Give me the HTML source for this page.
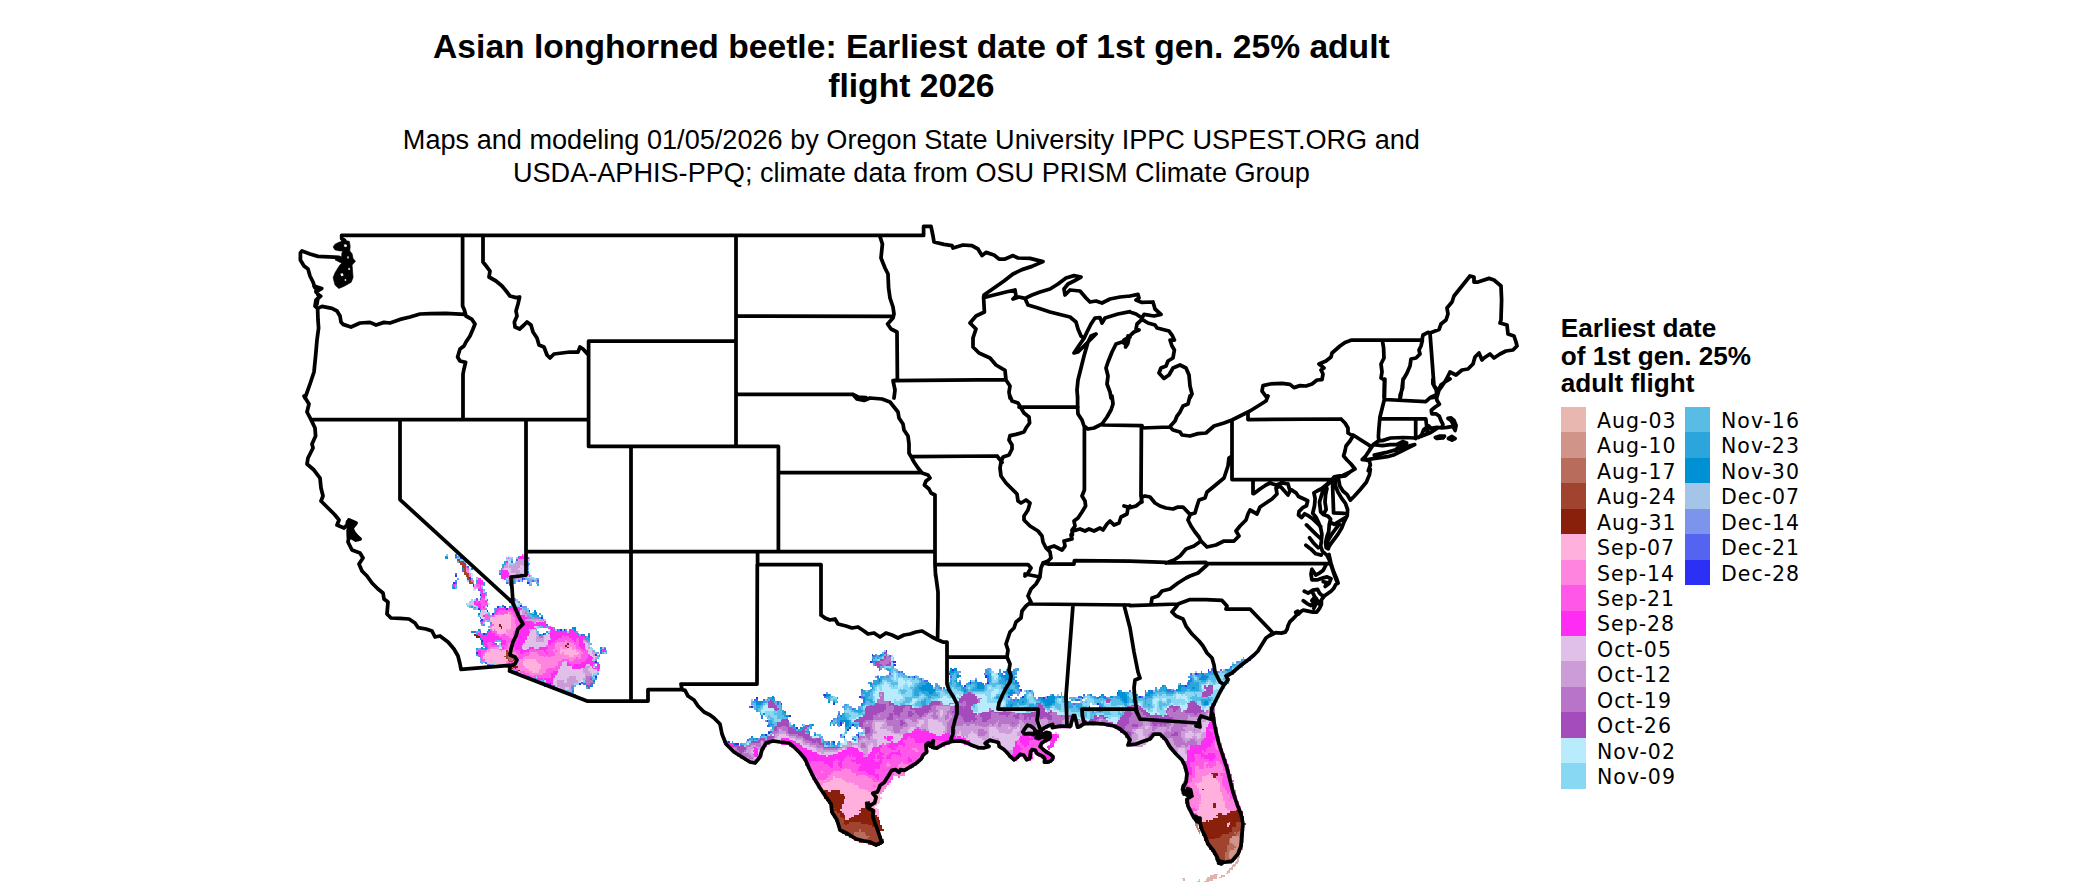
<!DOCTYPE html>
<html lang="en"><head><meta charset="utf-8"><title>Asian longhorned beetle: Earliest date of 1st gen. 25% adult flight 2026</title>
<style>
html,body{margin:0;padding:0;background:#fff}
body{width:2100px;height:892px;position:relative;overflow:hidden;font-family:"Liberation Sans",sans-serif;color:#000}
#title{position:absolute;left:311.4px;width:1200px;top:27.0px;text-align:center;font-weight:bold;font-size:33.63px;line-height:39.2px;white-space:nowrap}
#sub{position:absolute;left:311.4px;width:1200px;top:122.6px;text-align:center;font-size:27.12px;line-height:33px;white-space:nowrap}
#map{position:absolute;left:0;top:0}
#lt{position:absolute;left:1560.8px;top:314.8px;font-weight:bold;font-size:26.15px;line-height:27.8px;white-space:nowrap}
.k{position:absolute;width:25px;height:25.75px}
.kl{position:absolute;font-family:"DejaVu Sans",sans-serif;font-size:20.5px;letter-spacing:1px;line-height:25.45px;height:25.45px;white-space:nowrap;color:#000}
</style></head><body>
<div id="title">Asian longhorned beetle: Earliest date of 1st gen. 25% adult<br>flight 2026</div>
<div id="sub">Maps and modeling 01/05/2026 by Oregon State University IPPC USPEST.ORG and<br>USDA-APHIS-PPQ; climate data from OSU PRISM Climate Group</div>
<svg id="map" width="2100" height="892" viewBox="0 0 2100 892">
<g fill="none" stroke-width="1.78" shape-rendering="crispEdges"><path d="M1232 836.625h7M1230.25 838.375h10.5M1242.5 838.375h1.75M1230.25 840.125h10.5M1242.5 840.125h1.75M1230.25 841.875h10.5M1242.5 841.875h1.75M1232 843.625h10.5M1233.75 845.375h8.75M1235.5 847.125h7M1233.75 848.875h8.75M1230.25 850.625h10.5M1228.5 852.375h12.25M1228.5 854.125h10.5M1228.5 855.875h10.5M1228.5 857.625h8.75M1230.25 859.375h5.25M1230.25 861.125h3.5" stroke="#d09488"/><path d="M507.5 654.625h1.75M507.5 656.375h1.75M511 656.375h3.5M507.5 658.125h7M509.25 659.875h3.5M1242.5 827.875h1.75M859.25 829.625h1.75M1240.75 829.625h3.5M859.25 831.375h1.75M1239 831.375h5.25M854 833.125h10.5M1233.75 833.125h1.75M1237.25 833.125h7M854 834.875h12.25M1235.5 834.875h8.75M855.75 836.625h14M1239 836.625h5.25M857.5 838.375h10.5M1240.75 838.375h1.75M1228.5 840.125h1.75M1240.75 840.125h1.75M1228.5 841.875h1.75M1240.75 841.875h1.75M1228.5 843.625h3.5M1226.75 845.375h7M1226.75 847.125h8.75M1226.75 848.875h7M1226.75 850.625h3.5M1225 852.375h3.5M1225 854.125h3.5M1225 855.875h3.5M1225 857.625h3.5M1225 859.375h5.25M1225 861.125h5.25M1225 862.875h7" stroke="#b86c5c"/><path d="M456.75 560.125h3.5M458.5 561.875h5.25M460.25 563.625h5.25M462 565.375h3.5M462 567.125h3.5M463.75 568.875h1.75M463.75 570.625h1.75M463.75 572.375h3.5M463.75 574.125h5.25M465.5 575.875h3.5M467.25 577.625h1.75M467.25 579.375h3.5M469 581.125h1.75M469 582.875h3.5M472.5 586.375h1.75M505.75 651.125h1.75M505.75 652.875h3.5M505.75 654.625h1.75M504 656.375h3.5M509.25 656.375h1.75M505.75 658.125h1.75M507.5 659.875h1.75M512.75 659.875h1.75M509.25 661.625h3.5M833 808.625h1.75M831.25 812.125h5.25M831.25 813.875h8.75M833 815.625h7M833 817.375h8.75M834.75 819.125h8.75M1242.5 819.125h1.75M834.75 820.875h8.75M1240.75 820.875h3.5M836.5 822.625h7M848.75 822.625h12.25M1235.5 822.625h8.75M836.5 824.375h8.75M847 824.375h21M1235.5 824.375h10.5M836.5 826.125h35M1235.5 826.125h8.75M838.25 827.875h36.75M1232 827.875h10.5M838.25 829.625h21M861 829.625h15.75M1232 829.625h8.75M840 831.375h19.25M861 831.375h19.25M1232 831.375h7M841.75 833.125h12.25M864.5 833.125h15.75M1228.5 833.125h5.25M1235.5 833.125h1.75M845.25 834.875h8.75M866.25 834.875h14M1221.5 834.875h14M848.75 836.625h7M869.75 836.625h12.25M1219.75 836.625h12.25M852.25 838.375h5.25M868 838.375h14M1214.5 838.375h15.75M854 840.125h29.75M1205.75 840.125h22.75M859.25 841.875h24.5M1205.75 841.875h22.75M868 843.625h14M1205.75 843.625h22.75M873.25 845.375h7M1207.5 845.375h19.25M1209.25 847.125h17.5M1209.25 848.875h17.5M1211 850.625h15.75M1212.75 852.375h12.25M1212.75 854.125h12.25M1214.5 855.875h10.5M1214.5 857.625h10.5M1216.25 859.375h8.75M1216.25 861.125h8.75M1218 862.875h7M1219.75 864.625h1.75" stroke="#a04430"/><path d="M498.75 624.875h1.75M498.75 626.625h3.5M500.5 628.375h1.75M474.25 635.375h3.5M476 637.125h3.5M567 644.125h1.75M565.25 645.875h1.75M567 647.625h1.75M512.75 666.875h5.25M511 668.625h1.75M514.5 668.625h1.75M518 670.375h1.75M1211 773.625h7M1212.75 775.375h5.25M1212.75 777.125h3.5M1202.25 789.375h1.75M824.25 791.125h3.5M831.25 791.125h8.75M824.25 792.875h15.75M824.25 794.625h19.25M824.25 796.375h21M824.25 798.125h21M826 799.875h17.5M1184.75 799.875h1.75M827.75 801.625h15.75M868 801.625h1.75M1184.75 801.625h1.75M827.75 803.375h15.75M866.25 803.375h3.5M1184.75 803.375h1.75M1212.75 803.375h3.5M829.5 805.125h12.25M864.5 805.125h5.25M1212.75 805.125h3.5M829.5 806.875h12.25M864.5 806.875h5.25M1212.75 806.875h3.5M829.5 808.625h3.5M834.75 808.625h7M861 808.625h10.5M829.5 810.375h10.5M859.25 810.375h12.25M1235.5 810.375h5.25M829.5 812.125h1.75M836.5 812.125h5.25M861 812.125h12.25M1230.25 812.125h12.25M840 813.875h3.5M859.25 813.875h15.75M1218 813.875h3.5M1226.75 813.875h15.75M840 815.625h5.25M854 815.625h22.75M1216.25 815.625h26.25M841.75 817.375h3.5M850.5 817.375h28M1218 817.375h26.25M843.5 819.125h1.75M848.75 819.125h29.75M1212.75 819.125h29.75M843.5 820.875h36.75M1198.75 820.875h1.75M1205.75 820.875h1.75M1209.25 820.875h31.5M843.5 822.625h5.25M861 822.625h19.25M1197 822.625h31.5M1230.25 822.625h5.25M845.25 824.375h1.75M868 824.375h12.25M1198.75 824.375h28M1230.25 824.375h5.25M871.5 826.125h10.5M1198.75 826.125h28M1228.5 826.125h7M875 827.875h7M1198.75 827.875h33.25M876.75 829.625h7M1200.5 829.625h31.5M1200.5 831.375h31.5M1202.25 833.125h26.25M1202.25 834.875h19.25M1204 836.625h15.75M1204 838.375h10.5M1204 840.125h1.75" stroke="#88200c"/><path d="M507.5 612.625h1.75M504 614.375h5.25M495.25 616.125h15.75M490 617.875h21M490 619.625h21M490 621.375h21M491.75 623.125h19.25M493.5 624.875h5.25M500.5 624.875h10.5M491.75 626.625h7M502.25 626.625h8.75M491.75 628.375h8.75M502.25 628.375h8.75M491.75 630.125h1.75M495.25 630.125h10.5M507.5 630.125h1.75M497 631.875h8.75M497 633.625h7M505.75 633.625h1.75M560 647.625h1.75M568.75 647.625h3.5M490 649.375h8.75M560 649.375h12.25M574 649.375h1.75M486.5 651.125h1.75M490 651.125h10.5M502.25 651.125h3.5M560 651.125h15.75M484.75 652.875h21M560 652.875h1.75M563.5 652.875h15.75M484.75 654.625h21M563.5 654.625h14M483 656.375h21M568.75 656.375h5.25M483 658.125h22.75M484.75 659.875h22.75M525 659.875h10.5M484.75 661.625h21M523.25 661.625h14M486.5 663.375h7M495.25 663.375h10.5M523.25 663.375h15.75M500.5 665.125h5.25M523.25 665.125h17.5M525 666.875h15.75M526.75 668.625h14M528.5 670.375h10.5M532 672.125h7M1209.25 773.625h1.75M1205.75 775.375h5.25M833 777.125h1.75M1202.25 777.125h10.5M833 778.875h8.75M1202.25 778.875h14M824.25 780.625h1.75M829.5 780.625h15.75M1202.25 780.625h15.75M826 782.375h21M848.75 782.375h1.75M1198.75 782.375h21M822.5 784.125h31.5M1195.25 784.125h24.5M819 785.875h38.5M1197 785.875h22.75M817.25 787.625h42M1197 787.625h22.75M819 789.375h45.5M1198.75 789.375h3.5M1204 789.375h15.75M820.75 791.125h3.5M827.75 791.125h3.5M840 791.125h28M1198.75 791.125h21M820.75 792.875h3.5M840 792.875h31.5M875 792.875h1.75M878.5 792.875h1.75M1198.75 792.875h22.75M822.5 794.625h1.75M843.5 794.625h36.75M1200.5 794.625h21M845.25 796.375h35M1200.5 796.375h22.75M845.25 798.125h36.75M1200.5 798.125h22.75M843.5 799.875h36.75M1200.5 799.875h22.75M843.5 801.625h24.5M869.75 801.625h10.5M1198.75 801.625h26.25M843.5 803.375h22.75M869.75 803.375h8.75M1200.5 803.375h12.25M1216.25 803.375h8.75M841.75 805.125h22.75M869.75 805.125h7M1198.75 805.125h14M1216.25 805.125h8.75M841.75 806.875h22.75M869.75 806.875h5.25M1198.75 806.875h14M1216.25 806.875h8.75M841.75 808.625h19.25M871.5 808.625h5.25M1198.75 808.625h28M840 810.375h19.25M871.5 810.375h7M1197 810.375h33.25M841.75 812.125h19.25M873.25 812.125h5.25M1193.5 812.125h36.75M843.5 813.875h15.75M875 813.875h3.5M1197 813.875h21M1221.5 813.875h5.25M845.25 815.625h8.75M876.75 815.625h1.75M1195.25 815.625h21M845.25 817.375h5.25M1195.25 817.375h22.75M845.25 819.125h3.5M1195.25 819.125h17.5M1197 820.875h1.75M1200.5 820.875h5.25M1207.5 820.875h1.75M1228.5 822.625h1.75M1226.75 824.375h3.5M1226.75 826.125h1.75" stroke="#ffb0dc"/><path d="M465.5 568.875h1.75M465.5 570.625h3.5M467.25 572.375h1.75M469 574.125h1.75M469 575.875h1.75M474.25 586.375h1.75M474.25 588.125h1.75M509.25 612.625h1.75M498.75 614.375h3.5M509.25 614.375h3.5M511 616.125h1.75M511 617.875h3.5M511 619.625h3.5M511 621.375h3.5M511 623.125h3.5M511 624.875h5.25M511 626.625h5.25M511 628.375h5.25M505.75 630.125h1.75M509.25 630.125h5.25M505.75 631.875h7M504 633.625h1.75M507.5 633.625h5.25M498.75 635.375h3.5M505.75 635.375h7M509.25 637.125h5.25M565.25 640.625h1.75M556.5 642.375h14M507.5 644.125h3.5M554.75 644.125h12.25M568.75 644.125h5.25M507.5 645.875h3.5M554.75 645.875h10.5M567 645.875h8.75M490 647.625h8.75M507.5 647.625h3.5M554.75 647.625h5.25M561.75 647.625h5.25M572.25 647.625h3.5M488.25 649.375h1.75M504 649.375h7M553 649.375h7M572.25 649.375h1.75M575.75 649.375h1.75M488.25 651.125h1.75M500.5 651.125h1.75M507.5 651.125h5.25M553 651.125h1.75M556.5 651.125h3.5M575.75 651.125h5.25M509.25 652.875h7M530.25 652.875h7M554.75 652.875h5.25M561.75 652.875h1.75M579.25 652.875h3.5M483 654.625h1.75M509.25 654.625h8.75M528.5 654.625h10.5M554.75 654.625h8.75M577.5 654.625h3.5M514.5 656.375h3.5M525 656.375h19.25M546 656.375h1.75M551.25 656.375h17.5M574 656.375h7M514.5 658.125h3.5M523.25 658.125h52.5M577.5 658.125h3.5M514.5 659.875h10.5M535.5 659.875h26.25M568.75 659.875h5.25M505.75 661.625h1.75M512.75 661.625h10.5M537.25 661.625h21M570.5 661.625h1.75M505.75 663.375h1.75M516.25 663.375h7M539 663.375h19.25M505.75 665.125h1.75M516.25 665.125h7M540.75 665.125h17.5M518 666.875h7M540.75 666.875h14M516.25 668.625h10.5M540.75 668.625h7M519.75 670.375h8.75M539 670.375h7M525 672.125h7M539 672.125h7M528.5 673.875h14M532 675.625h1.75M1218 736.875h1.75M1218 738.625h1.75M1216.25 740.375h3.5M1214.5 742.125h5.25M1214.5 743.875h5.25M1214.5 745.625h5.25M1214.5 747.375h7M911.75 749.125h5.25M1216.25 749.125h1.75M1219.75 749.125h1.75M915.25 750.875h3.5M927.5 750.875h1.75M924 754.375h1.75M920.5 756.125h3.5M918.75 757.875h1.75M922.25 757.875h1.75M1216.25 761.375h3.5M887.25 763.125h1.75M901.25 763.125h1.75M1204 763.125h3.5M1216.25 763.125h3.5M885.5 764.875h5.25M897.75 764.875h10.5M1204 764.875h1.75M1216.25 764.875h5.25M887.25 766.625h1.75M897.75 766.625h10.5M1195.25 766.625h3.5M1204 766.625h1.75M1207.5 766.625h1.75M1212.75 766.625h10.5M845.25 768.375h1.75M897.75 768.375h8.75M1195.25 768.375h3.5M1204 768.375h19.25M841.75 770.125h8.75M897.75 770.125h8.75M1195.25 770.125h28M820.75 771.875h1.75M833 771.875h19.25M894.25 771.875h10.5M1195.25 771.875h29.75M810.25 773.625h3.5M831.25 773.625h24.5M894.25 773.625h10.5M1195.25 773.625h14M1218 773.625h1.75M810.25 775.375h5.25M827.75 775.375h28M857.5 775.375h8.75M892.5 775.375h12.25M1195.25 775.375h10.5M1211 775.375h1.75M1218 775.375h1.75M812 777.125h5.25M827.75 777.125h5.25M834.75 777.125h33.25M1195.25 777.125h7M1216.25 777.125h7M812 778.875h5.25M826 778.875h7M841.75 778.875h29.75M1191.75 778.875h10.5M1216.25 778.875h5.25M813.75 780.625h10.5M826 780.625h3.5M845.25 780.625h28M883.75 780.625h1.75M1191.75 780.625h10.5M1218 780.625h3.5M813.75 782.375h12.25M847 782.375h1.75M850.5 782.375h29.75M1183 782.375h1.75M1190 782.375h8.75M1219.75 782.375h1.75M815.5 784.125h7M854 784.125h33.25M1183 784.125h3.5M1188.25 784.125h7M1219.75 784.125h1.75M817.25 785.875h1.75M857.5 785.875h15.75M875 785.875h12.25M1190 785.875h7M1219.75 785.875h3.5M859.25 787.625h26.25M1190 787.625h7M1219.75 787.625h5.25M864.5 789.375h19.25M1188.25 789.375h10.5M1219.75 789.375h5.25M868 791.125h15.75M1188.25 791.125h10.5M1219.75 791.125h7M871.5 792.875h3.5M876.75 792.875h1.75M880.25 792.875h1.75M1186.5 792.875h12.25M1221.5 792.875h5.25M1228.5 792.875h1.75M1183 794.625h5.25M1190 794.625h10.5M1221.5 794.625h8.75M1188.25 796.375h12.25M1223.25 796.375h7M1186.5 798.125h14M1223.25 798.125h7M1186.5 799.875h14M1223.25 799.875h5.25M1230.25 799.875h3.5M1186.5 801.625h12.25M1225 801.625h10.5M1186.5 803.375h14M1225 803.375h14M1186.5 805.125h12.25M1225 805.125h14M1186.5 806.875h12.25M1225 806.875h15.75M1186.5 808.625h1.75M1195.25 808.625h3.5M1226.75 808.625h14M1188.25 810.375h3.5M1230.25 810.375h5.25M1190 812.125h3.5M1190 813.875h1.75M1193.5 819.125h1.75" stroke="#ff84e0"/><path d="M465.5 567.125h1.75M467.25 568.875h1.75M470.75 581.125h1.75M476 584.625h3.5M476 586.375h3.5M477.75 588.125h1.75M481.25 598.625h3.5M479.5 600.375h7M476 602.125h1.75M479.5 602.125h5.25M481.25 603.875h7M481.25 605.625h5.25M481.25 607.375h1.75M481.25 609.125h3.5M507.5 609.125h1.75M498.75 610.875h14M497 612.625h10.5M511 612.625h3.5M484.75 614.375h3.5M493.5 614.375h5.25M502.25 614.375h1.75M512.75 614.375h3.5M484.75 616.125h5.25M491.75 616.125h3.5M512.75 616.125h3.5M484.75 617.875h5.25M514.5 617.875h5.25M483 619.625h7M514.5 619.625h7M483 621.375h1.75M514.5 621.375h7M514.5 623.125h5.25M491.75 624.875h1.75M516.25 624.875h5.25M490 626.625h1.75M516.25 626.625h5.25M516.25 628.375h3.5M490 630.125h1.75M493.5 630.125h1.75M514.5 630.125h5.25M477.75 631.875h1.75M491.75 631.875h5.25M512.75 631.875h7M495.25 633.625h1.75M512.75 633.625h5.25M495.25 635.375h3.5M502.25 635.375h3.5M512.75 635.375h5.25M561.75 635.375h1.75M498.75 637.125h10.5M514.5 637.125h3.5M561.75 637.125h7M502.25 638.875h15.75M558.25 638.875h14M575.75 638.875h3.5M505.75 640.625h10.5M554.75 640.625h10.5M567 640.625h7M575.75 640.625h3.5M488.25 642.375h3.5M505.75 642.375h8.75M553 642.375h3.5M570.5 642.375h8.75M486.5 644.125h5.25M505.75 644.125h1.75M511 644.125h1.75M551.25 644.125h3.5M574 644.125h5.25M488.25 645.875h8.75M500.5 645.875h7M511 645.875h1.75M546 645.875h8.75M575.75 645.875h3.5M488.25 647.625h1.75M504 647.625h3.5M511 647.625h3.5M547.75 647.625h7M575.75 647.625h5.25M486.5 649.375h1.75M498.75 649.375h5.25M511 649.375h3.5M530.25 649.375h5.25M546 649.375h7M577.5 649.375h5.25M481.25 651.125h5.25M512.75 651.125h7M528.5 651.125h15.75M546 651.125h7M554.75 651.125h1.75M581 651.125h7M481.25 652.875h3.5M516.25 652.875h3.5M523.25 652.875h7M537.25 652.875h8.75M547.75 652.875h7M582.75 652.875h5.25M481.25 654.625h1.75M518 654.625h10.5M539 654.625h15.75M581 654.625h8.75M481.25 656.375h1.75M518 656.375h7M544.25 656.375h1.75M547.75 656.375h3.5M581 656.375h7M481.25 658.125h1.75M518 658.125h5.25M575.75 658.125h1.75M581 658.125h7M481.25 659.875h3.5M561.75 659.875h7M574 659.875h12.25M481.25 661.625h1.75M507.5 661.625h1.75M558.25 661.625h5.25M567 661.625h3.5M572.25 661.625h12.25M507.5 663.375h8.75M558.25 663.375h3.5M568.75 663.375h12.25M511 665.125h5.25M558.25 665.125h3.5M570.5 665.125h3.5M505.75 666.875h1.75M511 666.875h1.75M554.75 666.875h5.25M512.75 668.625h1.75M547.75 668.625h12.25M514.5 670.375h3.5M546 670.375h12.25M519.75 672.125h5.25M546 672.125h7M523.25 673.875h5.25M542.5 673.875h8.75M526.75 675.625h5.25M533.75 675.625h17.5M530.25 677.375h5.25M537.25 677.375h14M542.5 679.125h1.75M551.25 684.375h1.75M1214.5 726.375h1.75M1212.75 728.125h5.25M1209.25 729.875h8.75M1211 731.625h7M1027.25 733.375h3.5M1212.75 733.375h5.25M1027.25 735.125h3.5M1057 735.125h1.75M1212.75 735.125h5.25M908.25 736.875h1.75M1029 736.875h1.75M1214.5 736.875h3.5M883.75 738.625h1.75M906.5 738.625h7M1214.5 738.625h3.5M903 740.375h12.25M932.75 740.375h1.75M936.25 740.375h3.5M1016.75 740.375h3.5M1029 740.375h7M1044.75 740.375h5.25M1212.75 740.375h3.5M903 742.125h12.25M931 742.125h1.75M934.5 742.125h12.25M1016.75 742.125h3.5M1029 742.125h10.5M1043 742.125h3.5M1050 742.125h1.75M1212.75 742.125h1.75M882 743.875h1.75M885.5 743.875h3.5M904.75 743.875h22.75M929.25 743.875h19.25M1016.75 743.875h5.25M1029 743.875h14M1211 743.875h3.5M1219.75 743.875h1.75M882 745.625h5.25M897.75 745.625h5.25M904.75 745.625h40.25M1018.5 745.625h5.25M1027.25 745.625h15.75M1048.25 745.625h1.75M1211 745.625h3.5M1219.75 745.625h1.75M791 747.375h7M882 747.375h7M894.25 747.375h33.25M929.25 747.375h12.25M1020.25 747.375h22.75M1207.5 747.375h7M794.5 749.125h3.5M880.25 749.125h10.5M896 749.125h15.75M917 749.125h10.5M932.75 749.125h5.25M1022 749.125h22.75M1205.75 749.125h10.5M1218 749.125h1.75M1221.5 749.125h1.75M796.25 750.875h1.75M880.25 750.875h17.5M899.5 750.875h15.75M918.75 750.875h8.75M1020.25 750.875h26.25M1202.25 750.875h1.75M1205.75 750.875h17.5M798 752.625h1.75M876.75 752.625h1.75M882 752.625h8.75M899.5 752.625h28M1020.25 752.625h12.25M1034.25 752.625h10.5M1202.25 752.625h21M799.75 754.375h1.75M850.5 754.375h1.75M875 754.375h3.5M883.75 754.375h5.25M892.5 754.375h3.5M901.25 754.375h22.75M1018.5 754.375h14M1036 754.375h8.75M1193.5 754.375h7M1204 754.375h3.5M1214.5 754.375h8.75M847 756.125h1.75M850.5 756.125h1.75M875 756.125h1.75M882 756.125h5.25M890.75 756.125h8.75M901.25 756.125h19.25M1016.75 756.125h15.75M1037.75 756.125h7M1193.5 756.125h7M1216.25 756.125h7M845.25 757.875h10.5M875 757.875h1.75M883.75 757.875h1.75M890.75 757.875h17.5M910 757.875h8.75M920.5 757.875h1.75M1016.75 757.875h1.75M1023.75 757.875h7M1041.25 757.875h1.75M1195.25 757.875h5.25M1202.25 757.875h1.75M1214.5 757.875h7M834.75 759.625h3.5M843.5 759.625h7M852.25 759.625h3.5M873.25 759.625h7M882 759.625h26.25M911.75 759.625h10.5M1025.5 759.625h1.75M1195.25 759.625h14M1212.75 759.625h8.75M812 761.375h10.5M833 761.375h7M841.75 761.375h10.5M875 761.375h3.5M882 761.375h26.25M911.75 761.375h8.75M1193.5 761.375h22.75M1219.75 761.375h1.75M810.25 763.125h14M833 763.125h5.25M841.75 763.125h14M882 763.125h5.25M889 763.125h12.25M903 763.125h15.75M1190 763.125h14M1207.5 763.125h8.75M1219.75 763.125h3.5M808.5 764.875h19.25M833 764.875h5.25M841.75 764.875h19.25M880.25 764.875h5.25M890.75 764.875h7M908.25 764.875h8.75M1190 764.875h14M1205.75 764.875h10.5M1221.5 764.875h7M808.5 766.625h21M833 766.625h7M841.75 766.625h17.5M880.25 766.625h7M889 766.625h8.75M908.25 766.625h5.25M1190 766.625h5.25M1198.75 766.625h5.25M1205.75 766.625h1.75M1209.25 766.625h3.5M1223.25 766.625h5.25M806.75 768.375h38.5M847 768.375h12.25M880.25 768.375h17.5M906.5 768.375h5.25M1191.75 768.375h3.5M1198.75 768.375h5.25M1223.25 768.375h5.25M808.5 770.125h33.25M850.5 770.125h7M875 770.125h22.75M906.5 770.125h1.75M1191.75 770.125h3.5M1223.25 770.125h7M808.5 771.875h12.25M822.5 771.875h10.5M852.25 771.875h14M875 771.875h19.25M1191.75 771.875h3.5M1225 771.875h5.25M813.75 773.625h17.5M855.75 773.625h12.25M875 773.625h19.25M1184.75 773.625h3.5M1191.75 773.625h3.5M1219.75 773.625h10.5M815.5 775.375h12.25M855.75 775.375h1.75M866.25 775.375h7M878.5 775.375h14M1184.75 775.375h10.5M1219.75 775.375h10.5M817.25 777.125h10.5M868 777.125h7M878.5 777.125h14M897.75 777.125h1.75M1184.75 777.125h10.5M1223.25 777.125h8.75M817.25 778.875h8.75M871.5 778.875h5.25M878.5 778.875h14M1184.75 778.875h7M1221.5 778.875h10.5M873.25 780.625h10.5M885.5 780.625h5.25M1184.75 780.625h7M1221.5 780.625h12.25M880.25 782.375h10.5M1184.75 782.375h5.25M1221.5 782.375h10.5M887.25 784.125h1.75M1186.5 784.125h1.75M1221.5 784.125h10.5M873.25 785.875h1.75M1181.25 785.875h8.75M1223.25 785.875h8.75M1181.25 787.625h8.75M1225 787.625h7M1181.25 789.375h7M1225 789.375h7M1181.25 791.125h7M1226.75 791.125h8.75M1181.25 792.875h5.25M1226.75 792.875h1.75M1230.25 792.875h5.25M1230.25 794.625h5.25M1230.25 796.375h7M1230.25 798.125h7M1228.5 799.875h1.75M1233.75 799.875h3.5M1235.5 801.625h3.5M1188.25 808.625h7M1191.75 810.375h5.25M1191.75 813.875h5.25M1191.75 815.625h3.5M1191.75 817.375h3.5" stroke="#ff58e8"/><path d="M521.5 554.875h1.75M519.75 556.625h5.25M507.5 558.375h1.75M518 558.375h7M505.75 561.875h1.75M500.5 570.625h7M500.5 572.375h8.75M500.5 574.125h8.75M526.75 574.125h1.75M500.5 575.875h8.75M528.5 575.875h1.75M500.5 577.625h7M477.75 579.375h3.5M504 579.375h1.75M477.75 581.125h5.25M477.75 582.875h5.25M528.5 582.875h1.75M453.25 584.625h1.75M479.5 584.625h3.5M453.25 586.375h1.75M479.5 586.375h1.75M479.5 588.125h1.75M479.5 589.875h3.5M481.25 591.625h1.75M481.25 593.375h3.5M481.25 595.125h3.5M481.25 596.875h3.5M476 600.375h1.75M512.75 600.375h3.5M474.25 602.125h1.75M477.75 602.125h1.75M484.75 602.125h1.75M474.25 603.875h7M476 605.625h5.25M474.25 607.375h1.75M477.75 607.375h3.5M483 607.375h1.75M514.5 607.375h5.25M479.5 609.125h1.75M497 609.125h8.75M509.25 609.125h12.25M495.25 610.875h3.5M512.75 610.875h7M495.25 612.625h1.75M514.5 612.625h5.25M516.25 614.375h3.5M483 616.125h1.75M516.25 616.125h8.75M519.75 617.875h7M521.5 619.625h3.5M481.25 621.375h1.75M521.5 621.375h10.5M544.25 621.375h1.75M481.25 623.125h1.75M519.75 623.125h14M535.5 623.125h10.5M521.5 624.875h24.5M521.5 626.625h12.25M542.5 626.625h3.5M549.5 626.625h1.75M519.75 628.375h15.75M547.75 628.375h5.25M519.75 630.125h8.75M551.25 630.125h3.5M568.75 630.125h5.25M488.25 631.875h3.5M519.75 631.875h10.5M549.5 631.875h17.5M568.75 631.875h7M477.75 633.625h3.5M486.5 633.625h8.75M518 633.625h10.5M547.75 633.625h29.75M477.75 635.375h17.5M518 635.375h10.5M549.5 635.375h12.25M563.5 635.375h15.75M479.5 637.125h19.25M518 637.125h8.75M549.5 637.125h12.25M568.75 637.125h15.75M481.25 638.875h21M518 638.875h8.75M551.25 638.875h7M572.25 638.875h3.5M579.25 638.875h3.5M483 640.625h12.25M500.5 640.625h5.25M516.25 640.625h8.75M547.75 640.625h7M574 640.625h1.75M579.25 640.625h3.5M483 642.375h5.25M491.75 642.375h1.75M500.5 642.375h5.25M514.5 642.375h10.5M547.75 642.375h5.25M579.25 642.375h3.5M483 644.125h3.5M491.75 644.125h3.5M502.25 644.125h3.5M512.75 644.125h10.5M547.75 644.125h3.5M579.25 644.125h5.25M484.75 645.875h3.5M512.75 645.875h8.75M579.25 645.875h5.25M486.5 647.625h1.75M502.25 647.625h1.75M514.5 647.625h7M528.5 647.625h5.25M539 647.625h8.75M581 647.625h3.5M481.25 649.375h1.75M484.75 649.375h1.75M514.5 649.375h8.75M526.75 649.375h3.5M535.5 649.375h10.5M582.75 649.375h3.5M602 649.375h1.75M477.75 651.125h3.5M519.75 651.125h8.75M544.25 651.125h1.75M602 651.125h3.5M477.75 652.875h3.5M519.75 652.875h3.5M546 652.875h1.75M477.75 654.625h3.5M479.5 656.375h1.75M588 656.375h3.5M588 658.125h5.25M586.25 659.875h5.25M584.5 661.625h10.5M567 663.375h1.75M581 663.375h14M507.5 665.125h3.5M567 665.125h3.5M574 665.125h12.25M589.75 665.125h3.5M596.75 665.125h3.5M572.25 666.875h12.25M591.5 666.875h1.75M596.75 666.875h3.5M572.25 668.625h8.75M593.25 668.625h7M596.75 670.375h1.75M553 672.125h5.25M551.25 673.875h5.25M551.25 675.625h3.5M528.5 677.375h1.75M551.25 677.375h3.5M530.25 679.125h1.75M537.25 679.125h5.25M544.25 679.125h8.75M537.25 680.875h1.75M542.5 680.875h1.75M546 680.875h7M546 682.625h7M558.25 689.625h1.75M1211 721.125h5.25M1209.25 722.875h7M1207.5 724.625h8.75M1207.5 726.375h7M917 728.125h1.75M1205.75 728.125h7M913.5 729.875h7M1205.75 729.875h3.5M911.75 731.625h17.5M1027.25 731.625h5.25M1205.75 731.625h5.25M904.75 733.375h28M945 733.375h5.25M1025.5 733.375h1.75M1030.75 733.375h8.75M1046.5 733.375h5.25M1205.75 733.375h7M903 735.125h33.25M941.5 735.125h8.75M1022 735.125h5.25M1030.75 735.125h8.75M1046.5 735.125h10.5M1205.75 735.125h7M883.75 736.875h1.75M887.25 736.875h5.25M903 736.875h5.25M910 736.875h42M953.75 736.875h1.75M957.25 736.875h3.5M962.5 736.875h1.75M1020.25 736.875h8.75M1030.75 736.875h28M1205.75 736.875h8.75M780.5 738.625h8.75M885.5 738.625h7M901.25 738.625h5.25M913.5 738.625h52.5M1018.5 738.625h38.5M1204 738.625h10.5M780.5 740.375h12.25M887.25 740.375h3.5M899.5 740.375h3.5M915.25 740.375h17.5M934.5 740.375h1.75M939.75 740.375h29.75M1020.25 740.375h8.75M1036 740.375h8.75M1050 740.375h7M1204 740.375h8.75M780.5 742.125h15.75M890.75 742.125h1.75M897.75 742.125h5.25M915.25 742.125h15.75M932.75 742.125h1.75M946.75 742.125h22.75M1015 742.125h1.75M1020.25 742.125h8.75M1039.5 742.125h3.5M1051.75 742.125h3.5M1200.5 742.125h12.25M728 743.875h5.25M780.5 743.875h19.25M889 743.875h15.75M927.5 743.875h1.75M948.5 743.875h1.75M964.25 743.875h7M1015 743.875h1.75M1022 743.875h7M1050 743.875h3.5M1200.5 743.875h10.5M729.75 745.625h3.5M789.25 745.625h12.25M878.5 745.625h3.5M887.25 745.625h10.5M903 745.625h1.75M969.5 745.625h3.5M1015 745.625h3.5M1023.75 745.625h3.5M1050 745.625h3.5M1190 745.625h3.5M1195.25 745.625h15.75M729.75 747.375h3.5M752.5 747.375h3.5M798 747.375h5.25M847 747.375h7M873.25 747.375h8.75M889 747.375h5.25M973 747.375h3.5M1013.25 747.375h7M1046.5 747.375h5.25M1190 747.375h17.5M729.75 749.125h3.5M754.25 749.125h3.5M798 749.125h8.75M847 749.125h10.5M871.5 749.125h8.75M890.75 749.125h5.25M976.5 749.125h1.75M1013.25 749.125h8.75M1048.25 749.125h1.75M1190 749.125h15.75M752.5 750.875h5.25M798 750.875h14M841.75 750.875h17.5M871.5 750.875h8.75M897.75 750.875h1.75M1013.25 750.875h7M1046.5 750.875h1.75M1186.5 750.875h15.75M1204 750.875h1.75M754.25 752.625h3.5M799.75 752.625h17.5M838.25 752.625h24.5M869.75 752.625h7M878.5 752.625h3.5M890.75 752.625h8.75M1013.25 752.625h7M1044.75 752.625h5.25M1186.5 752.625h15.75M752.5 754.375h5.25M801.5 754.375h17.5M833 754.375h17.5M852.25 754.375h12.25M868 754.375h7M878.5 754.375h5.25M889 754.375h3.5M896 754.375h5.25M1011.5 754.375h7M1044.75 754.375h7M1186.5 754.375h7M1200.5 754.375h3.5M1207.5 754.375h7M1223.25 754.375h1.75M754.25 756.125h3.5M801.5 756.125h24.5M827.75 756.125h19.25M848.75 756.125h1.75M852.25 756.125h10.5M868 756.125h7M876.75 756.125h5.25M887.25 756.125h3.5M899.5 756.125h1.75M1011.5 756.125h5.25M1044.75 756.125h8.75M1186.5 756.125h7M1200.5 756.125h15.75M1223.25 756.125h1.75M801.5 757.875h43.75M855.75 757.875h19.25M876.75 757.875h7M885.5 757.875h5.25M908.25 757.875h1.75M1011.5 757.875h5.25M1030.75 757.875h1.75M1043 757.875h12.25M1186.5 757.875h8.75M1200.5 757.875h1.75M1204 757.875h10.5M1221.5 757.875h3.5M803.25 759.625h31.5M838.25 759.625h5.25M850.5 759.625h1.75M855.75 759.625h17.5M880.25 759.625h1.75M908.25 759.625h3.5M1011.5 759.625h5.25M1027.25 759.625h3.5M1043 759.625h10.5M1186.5 759.625h8.75M1209.25 759.625h3.5M1221.5 759.625h5.25M805 761.375h7M822.5 761.375h10.5M840 761.375h1.75M852.25 761.375h22.75M878.5 761.375h3.5M908.25 761.375h3.5M1013.25 761.375h1.75M1043 761.375h8.75M1183 761.375h10.5M1221.5 761.375h5.25M805 763.125h5.25M824.25 763.125h8.75M838.25 763.125h3.5M855.75 763.125h26.25M1044.75 763.125h5.25M1183 763.125h7M1223.25 763.125h3.5M805 764.875h3.5M827.75 764.875h5.25M838.25 764.875h3.5M861 764.875h19.25M1183 764.875h7M806.75 766.625h1.75M829.5 766.625h3.5M840 766.625h1.75M859.25 766.625h21M1183 766.625h7M859.25 768.375h21M1184.75 768.375h7M857.5 770.125h17.5M1184.75 770.125h7M866.25 771.875h8.75M1184.75 771.875h7M868 773.625h7M1188.25 773.625h3.5M873.25 775.375h5.25M1230.25 775.375h1.75M875 777.125h3.5M876.75 778.875h1.75M1232 784.125h1.75M1232 785.875h1.75M1232 787.625h1.75M1232 789.375h1.75" stroke="#ff2cf4"/><path d="M523.25 554.875h3.5M525 556.625h1.75M525 558.375h1.75M525 560.125h3.5M507.5 561.875h1.75M507.5 563.625h1.75M507.5 565.375h1.75M519.75 565.375h3.5M507.5 567.125h1.75M519.75 567.125h5.25M504 568.875h7M518 568.875h7M507.5 570.625h3.5M519.75 570.625h5.25M509.25 572.375h1.75M519.75 572.375h7M509.25 574.125h7M523.25 574.125h3.5M523.25 575.875h5.25M507.5 577.625h1.75M526.75 577.625h5.25M470.75 602.125h1.75M469 603.875h5.25M472.5 605.625h3.5M516.25 605.625h1.75M519.75 607.375h1.75M481.25 610.875h3.5M519.75 610.875h1.75M481.25 612.625h5.25M519.75 612.625h1.75M479.5 614.375h5.25M519.75 614.375h1.75M481.25 616.125h1.75M483 617.875h1.75M544.25 619.625h1.75M535.5 621.375h3.5M542.5 621.375h1.75M533.75 626.625h3.5M535.5 628.375h1.75M532 630.125h3.5M530.25 631.875h5.25M528.5 633.625h7M528.5 635.375h8.75M544.25 635.375h5.25M526.75 637.125h8.75M544.25 637.125h5.25M526.75 638.875h8.75M544.25 638.875h5.25M525 640.625h10.5M544.25 640.625h3.5M525 642.375h22.75M582.75 642.375h3.5M523.25 644.125h24.5M584.5 644.125h3.5M521.5 645.875h24.5M584.5 645.875h3.5M521.5 647.625h7M533.75 647.625h5.25M584.5 647.625h3.5M523.25 649.375h3.5M586.25 649.375h5.25M588 651.125h3.5M588 652.875h3.5M589.75 654.625h3.5M591.5 656.375h5.25M593.25 658.125h1.75M591.5 659.875h1.75M563.5 661.625h3.5M561.75 663.375h5.25M561.75 665.125h5.25M586.25 665.125h3.5M560 666.875h12.25M589.75 666.875h1.75M593.25 666.875h1.75M560 668.625h12.25M581 668.625h1.75M588 668.625h5.25M558.25 670.375h24.5M588 670.375h8.75M558.25 672.125h24.5M589.75 672.125h7M556.5 673.875h28M554.75 675.625h29.75M554.75 677.375h14M575.75 677.375h8.75M553 679.125h14M575.75 679.125h7M553 680.875h3.5M563.5 680.875h3.5M577.5 680.875h3.5M553 682.625h3.5M563.5 682.625h3.5M577.5 682.625h1.75M553 684.375h3.5M554.75 686.125h1.75M556.5 687.875h3.5M565.25 687.875h3.5M560 689.625h1.75M565.25 689.625h3.5M939.75 710.625h3.5M939.75 712.375h3.5M939.75 714.125h3.5M1207.5 714.125h5.25M939.75 715.875h1.75M1207.5 715.875h7M1207.5 717.625h7M927.5 719.375h5.25M1207.5 719.375h7M918.75 721.125h5.25M927.5 721.125h10.5M1195.25 721.125h5.25M1205.75 721.125h5.25M875 722.875h8.75M918.75 722.875h5.25M927.5 722.875h14M1037.75 722.875h3.5M1065.75 722.875h3.5M1193.5 722.875h15.75M875 724.625h7M917 724.625h5.25M927.5 724.625h15.75M1018.5 724.625h1.75M1037.75 724.625h3.5M1064 724.625h5.25M1195.25 724.625h12.25M875 726.375h7M917 726.375h3.5M927.5 726.375h17.5M1018.5 726.375h1.75M1025.5 726.375h3.5M1062.25 726.375h7M1144.5 726.375h5.25M1191.75 726.375h15.75M875 728.125h5.25M910 728.125h5.25M927.5 728.125h17.5M988.75 728.125h7M1008 728.125h1.75M1016.75 728.125h3.5M1025.5 728.125h5.25M1051.75 728.125h1.75M1055.25 728.125h1.75M1060.5 728.125h8.75M1144.5 728.125h3.5M1197 728.125h8.75M875 729.875h12.25M908.25 729.875h5.25M929.25 729.875h15.75M988.75 729.875h8.75M1013.25 729.875h7M1023.75 729.875h8.75M1135.75 729.875h7M1200.5 729.875h5.25M876.75 731.625h14M908.25 731.625h3.5M929.25 731.625h14M959 731.625h1.75M971.25 731.625h1.75M988.75 731.625h10.5M1011.5 731.625h7M1023.75 731.625h3.5M1032.5 731.625h1.75M1134 731.625h8.75M1188.25 731.625h3.5M1200.5 731.625h5.25M876.75 733.375h17.5M932.75 733.375h12.25M959 733.375h1.75M969.5 733.375h5.25M988.75 733.375h15.75M1009.75 733.375h7M1023.75 733.375h1.75M1044.75 733.375h1.75M1055.25 733.375h1.75M1135.75 733.375h7M1184.75 733.375h8.75M1197 733.375h5.25M778.75 735.125h7M873.25 735.125h26.25M901.25 735.125h1.75M936.25 735.125h5.25M957.25 735.125h3.5M967.75 735.125h8.75M988.75 735.125h28M1041.25 735.125h5.25M1137.5 735.125h5.25M1184.75 735.125h8.75M1195.25 735.125h5.25M777 736.875h12.25M873.25 736.875h10.5M885.5 736.875h1.75M892.5 736.875h10.5M960.75 736.875h1.75M964.25 736.875h1.75M967.75 736.875h10.5M988.75 736.875h3.5M994 736.875h26.25M1137.5 736.875h7M1184.75 736.875h7M1197 736.875h3.5M775.25 738.625h5.25M789.25 738.625h5.25M873.25 738.625h10.5M892.5 738.625h8.75M966 738.625h15.75M987 738.625h7M999.25 738.625h19.25M1137.5 738.625h7M1186.5 738.625h1.75M1197 738.625h1.75M777 740.375h3.5M792.75 740.375h8.75M862.75 740.375h3.5M876.75 740.375h10.5M890.75 740.375h8.75M969.5 740.375h14M987 740.375h8.75M999.25 740.375h17.5M1135.75 740.375h8.75M775.25 742.125h5.25M796.25 742.125h5.25M876.75 742.125h14M892.5 742.125h5.25M969.5 742.125h24.5M999.25 742.125h15.75M1135.75 742.125h8.75M799.75 743.875h3.5M869.75 743.875h3.5M876.75 743.875h5.25M883.75 743.875h1.75M971.25 743.875h17.5M999.25 743.875h15.75M1127 743.875h1.75M1139.25 743.875h3.5M801.5 745.625h7M852.25 745.625h5.25M868 745.625h5.25M876.75 745.625h1.75M973 745.625h14M999.25 745.625h15.75M803.25 747.375h10.5M854 747.375h5.25M868 747.375h5.25M976.5 747.375h10.5M999.25 747.375h14M752.5 749.125h1.75M806.75 749.125h8.75M841.75 749.125h3.5M857.5 749.125h3.5M868 749.125h3.5M978.25 749.125h7M1001 749.125h12.25M1177.75 749.125h7M750.75 750.875h1.75M757.75 750.875h1.75M812 750.875h5.25M838.25 750.875h3.5M859.25 750.875h3.5M868 750.875h3.5M1002.75 750.875h3.5M1177.75 750.875h7M750.75 752.625h3.5M757.75 752.625h1.75M817.25 752.625h3.5M824.25 752.625h14M868 752.625h1.75M1177.75 752.625h7M757.75 754.375h3.5M819 754.375h14M1177.75 754.375h8.75M757.75 756.125h5.25M826 756.125h1.75M1177.75 756.125h8.75M754.25 757.875h7M1009.75 757.875h1.75M1179.5 757.875h7M756 759.625h3.5M1179.5 759.625h7M750.75 761.375h7M1181.25 761.375h1.75M750.75 763.125h5.25M1181.25 763.125h1.75" stroke="#e0c0e8"/><path d="M518 560.125h7M516.25 561.875h10.5M505.75 563.625h1.75M514.5 563.625h12.25M504 565.375h3.5M509.25 565.375h10.5M523.25 565.375h3.5M504 567.125h3.5M509.25 567.125h10.5M525 567.125h1.75M502.25 568.875h1.75M511 568.875h7M511 570.625h8.75M511 572.375h8.75M516.25 574.125h7M509.25 575.875h14M509.25 577.625h12.25M523.25 577.625h3.5M507.5 579.375h3.5M514.5 579.375h7M528.5 579.375h5.25M507.5 581.125h1.75M535.5 581.125h1.75M469 605.625h3.5M472.5 607.375h1.75M472.5 609.125h1.75M521.5 610.875h3.5M521.5 612.625h3.5M521.5 614.375h5.25M525 616.125h1.75M525 619.625h17.5M532 621.375h3.5M539 621.375h3.5M533.75 623.125h1.75M528.5 630.125h3.5M535.5 631.875h1.75M535.5 633.625h1.75M537.25 635.375h1.75M542.5 635.375h1.75M535.5 637.125h3.5M542.5 637.125h1.75M535.5 638.875h8.75M549.5 638.875h1.75M535.5 640.625h8.75M582.75 640.625h3.5M586.25 642.375h1.75M588 644.125h1.75M588 647.625h1.75M591.5 651.125h1.75M591.5 652.875h3.5M593.25 654.625h1.75M595 658.125h1.75M584.5 666.875h5.25M582.75 668.625h5.25M582.75 670.375h5.25M582.75 672.125h7M584.5 673.875h7M584.5 675.625h7M568.75 677.375h7M584.5 677.375h1.75M567 679.125h8.75M582.75 679.125h3.5M556.5 680.875h7M567 680.875h10.5M556.5 682.625h7M567 682.625h10.5M556.5 684.375h17.5M556.5 686.125h14M560 687.875h5.25M568.75 687.875h1.75M563.5 689.625h1.75M568.75 689.625h3.5M568.75 691.375h1.75M880.25 694.875h1.75M936.25 707.125h14M1134 707.125h1.75M1212.75 707.125h1.75M936.25 708.875h14M1132.25 708.875h5.25M938 710.625h1.75M943.25 710.625h5.25M1134 710.625h3.5M1207.5 710.625h3.5M931 712.375h1.75M936.25 712.375h3.5M943.25 712.375h3.5M1135.75 712.375h1.75M1207.5 712.375h7M927.5 714.125h5.25M936.25 714.125h3.5M943.25 714.125h3.5M948.5 714.125h1.75M1205.75 714.125h1.75M878.5 715.875h1.75M925.75 715.875h5.25M938 715.875h1.75M941.5 715.875h3.5M948.5 715.875h3.5M1137.5 715.875h1.75M1188.25 715.875h1.75M1204 715.875h3.5M922.25 717.625h10.5M938 717.625h7M948.5 717.625h3.5M1139.25 717.625h1.75M1188.25 717.625h14M1204 717.625h3.5M1214.5 717.625h1.75M883.75 719.375h1.75M896 719.375h1.75M904.75 719.375h5.25M917 719.375h10.5M932.75 719.375h12.25M946.75 719.375h3.5M1041.25 719.375h5.25M1064 719.375h8.75M1099 719.375h3.5M1144.5 719.375h3.5M1186.5 719.375h21M1214.5 719.375h1.75M873.25 721.125h12.25M904.75 721.125h7M917 721.125h1.75M924 721.125h3.5M938 721.125h10.5M997.5 721.125h1.75M1018.5 721.125h3.5M1036 721.125h12.25M1062.25 721.125h19.25M1099 721.125h1.75M1144.5 721.125h3.5M1181.25 721.125h1.75M1186.5 721.125h8.75M1200.5 721.125h5.25M866.25 722.875h1.75M871.5 722.875h3.5M883.75 722.875h3.5M906.5 722.875h12.25M924 722.875h3.5M941.5 722.875h5.25M995.75 722.875h1.75M1018.5 722.875h5.25M1036 722.875h1.75M1041.25 722.875h7M1062.25 722.875h3.5M1069.25 722.875h3.5M1074.5 722.875h10.5M1097.25 722.875h3.5M1142.75 722.875h7M1170.75 722.875h3.5M1177.75 722.875h1.75M1188.25 722.875h5.25M871.5 724.625h3.5M882 724.625h5.25M908.25 724.625h8.75M922.25 724.625h5.25M943.25 724.625h3.5M962.5 724.625h3.5M969.5 724.625h5.25M976.5 724.625h1.75M988.75 724.625h3.5M994 724.625h3.5M1001 724.625h8.75M1016.75 724.625h1.75M1020.25 724.625h10.5M1036 724.625h1.75M1041.25 724.625h10.5M1060.5 724.625h3.5M1069.25 724.625h3.5M1074.5 724.625h12.25M1097.25 724.625h1.75M1100.75 724.625h1.75M1142.75 724.625h7M1170.75 724.625h3.5M1186.5 724.625h8.75M871.5 726.375h3.5M882 726.375h10.5M906.5 726.375h10.5M920.5 726.375h7M945 726.375h1.75M953.75 726.375h28M987 726.375h10.5M1001 726.375h10.5M1015 726.375h3.5M1020.25 726.375h5.25M1029 726.375h28M1058.75 726.375h3.5M1069.25 726.375h3.5M1076.25 726.375h7M1141 726.375h3.5M1149.75 726.375h1.75M1169 726.375h3.5M1186.5 726.375h5.25M871.5 728.125h3.5M880.25 728.125h12.25M903 728.125h7M915.25 728.125h1.75M918.75 728.125h8.75M945 728.125h1.75M953.75 728.125h35M995.75 728.125h12.25M1009.75 728.125h7M1020.25 728.125h5.25M1030.75 728.125h17.5M1053.5 728.125h1.75M1057 728.125h3.5M1069.25 728.125h1.75M1078 728.125h1.75M1137.5 728.125h7M1148 728.125h3.5M1156.75 728.125h10.5M1169 728.125h1.75M1183 728.125h14M778.75 729.875h3.5M873.25 729.875h1.75M887.25 729.875h5.25M899.5 729.875h8.75M920.5 729.875h1.75M925.75 729.875h3.5M945 729.875h1.75M955.5 729.875h22.75M983.5 729.875h5.25M997.5 729.875h15.75M1020.25 729.875h3.5M1032.5 729.875h12.25M1132.25 729.875h3.5M1142.75 729.875h8.75M1155 729.875h10.5M1167.25 729.875h3.5M1184.75 729.875h8.75M1195.25 729.875h5.25M778.75 731.625h7M873.25 731.625h3.5M890.75 731.625h3.5M899.5 731.625h8.75M943.25 731.625h3.5M955.5 731.625h3.5M960.75 731.625h10.5M973 731.625h5.25M987 731.625h1.75M999.25 731.625h12.25M1018.5 731.625h5.25M1034.25 731.625h7M1044.75 731.625h5.25M1132.25 731.625h1.75M1142.75 731.625h22.75M1169 731.625h1.75M1181.25 731.625h7M1191.75 731.625h8.75M777 733.375h8.75M871.5 733.375h5.25M894.25 733.375h10.5M950.25 733.375h8.75M960.75 733.375h8.75M974.75 733.375h3.5M987 733.375h1.75M1004.5 733.375h5.25M1016.75 733.375h7M1039.5 733.375h1.75M1043 733.375h1.75M1134 733.375h1.75M1142.75 733.375h7M1153.25 733.375h10.5M1181.25 733.375h3.5M1193.5 733.375h3.5M1202.25 733.375h3.5M775.25 735.125h3.5M785.75 735.125h3.5M871.5 735.125h1.75M899.5 735.125h1.75M950.25 735.125h7M960.75 735.125h7M976.5 735.125h1.75M985.25 735.125h3.5M1016.75 735.125h5.25M1132.25 735.125h5.25M1142.75 735.125h5.25M1153.25 735.125h8.75M1181.25 735.125h3.5M1193.5 735.125h1.75M1200.5 735.125h5.25M775.25 736.875h1.75M789.25 736.875h7M864.5 736.875h1.75M869.75 736.875h3.5M952 736.875h1.75M955.5 736.875h1.75M966 736.875h1.75M978.25 736.875h10.5M992.25 736.875h1.75M1132.25 736.875h5.25M1144.5 736.875h3.5M1151.5 736.875h1.75M1181.25 736.875h3.5M1191.75 736.875h5.25M1200.5 736.875h5.25M773.5 738.625h1.75M794.5 738.625h8.75M861 738.625h7M869.75 738.625h3.5M981.75 738.625h5.25M994 738.625h5.25M1132.25 738.625h5.25M1144.5 738.625h3.5M1165.5 738.625h7M1183 738.625h3.5M1188.25 738.625h5.25M1195.25 738.625h1.75M1198.75 738.625h5.25M773.5 740.375h3.5M801.5 740.375h1.75M859.25 740.375h3.5M866.25 740.375h10.5M983.5 740.375h3.5M995.75 740.375h3.5M1127 740.375h8.75M1144.5 740.375h5.25M1163.75 740.375h8.75M1183 740.375h7M1195.25 740.375h7M761.25 742.125h1.75M773.5 742.125h1.75M801.5 742.125h3.5M847 742.125h1.75M859.25 742.125h17.5M994 742.125h5.25M1127 742.125h8.75M1144.5 742.125h3.5M1165.5 742.125h8.75M1184.75 742.125h1.75M1197 742.125h3.5M761.25 743.875h3.5M803.25 743.875h7M847 743.875h3.5M852.25 743.875h8.75M864.5 743.875h5.25M873.25 743.875h3.5M997.5 743.875h1.75M1128.75 743.875h10.5M1142.75 743.875h3.5M1169 743.875h5.25M1197 743.875h3.5M750.75 745.625h5.25M761.25 745.625h3.5M808.5 745.625h7M841.75 745.625h10.5M857.5 745.625h3.5M866.25 745.625h1.75M873.25 745.625h3.5M987 745.625h3.5M997.5 745.625h1.75M1128.75 745.625h14M1170.75 745.625h5.25M1181.25 745.625h3.5M1188.25 745.625h1.75M728 747.375h1.75M747.25 747.375h5.25M756 747.375h3.5M813.75 747.375h3.5M841.75 747.375h5.25M859.25 747.375h1.75M866.25 747.375h1.75M987 747.375h1.75M1170.75 747.375h19.25M733.25 749.125h1.75M747.25 749.125h5.25M757.75 749.125h1.75M815.5 749.125h7M838.25 749.125h3.5M845.25 749.125h1.75M861 749.125h7M1170.75 749.125h7M1184.75 749.125h5.25M731.5 750.875h3.5M745.5 750.875h5.25M817.25 750.875h21M862.75 750.875h5.25M1006.25 750.875h7M1170.75 750.875h7M1184.75 750.875h1.75M733.25 752.625h3.5M743.75 752.625h7M759.5 752.625h1.75M820.75 752.625h3.5M862.75 752.625h5.25M1004.5 752.625h8.75M1172.5 752.625h5.25M1184.75 752.625h1.75M735 754.375h5.25M749 754.375h3.5M761.25 754.375h1.75M864.5 754.375h3.5M1006.25 754.375h5.25M1174.25 754.375h3.5M736.75 756.125h3.5M750.75 756.125h3.5M862.75 756.125h5.25M1008 756.125h3.5M1176 756.125h1.75M740.25 757.875h1.75M747.25 757.875h1.75M752.5 757.875h1.75M1177.75 757.875h1.75M749 759.625h7M747.25 761.375h3.5M749 763.125h1.75M1183 768.375h1.75" stroke="#cc9cd8"/><path d="M511 579.375h3.5M509.25 581.125h3.5M525 612.625h1.75M526.75 616.125h1.75M526.75 617.875h5.25M533.75 617.875h5.25M539 637.125h3.5M582.75 638.875h1.75M586.25 640.625h1.75M885.5 656.375h3.5M885.5 658.125h5.25M883.75 659.875h7M880.25 661.625h12.25M878.5 663.375h10.5M882 665.125h3.5M586.25 677.375h7M586.25 679.125h3.5M584.5 680.875h8.75M586.25 682.625h7M586.25 684.375h3.5M570.5 686.125h3.5M570.5 687.875h1.75M878.5 693.125h5.25M878.5 694.875h1.75M882 694.875h1.75M878.5 696.625h5.25M880.25 698.375h3.5M978.25 698.375h3.5M876.75 700.125h7M978.25 700.125h1.75M876.75 701.875h12.25M939.75 701.875h1.75M962.5 701.875h3.5M978.25 701.875h1.75M878.5 703.625h10.5M939.75 703.625h3.5M948.5 703.625h5.25M955.5 703.625h10.5M885.5 705.375h3.5M890.75 705.375h1.75M932.75 705.375h17.5M953.75 705.375h1.75M959 705.375h7M1135.75 705.375h1.75M1211 705.375h5.25M885.5 707.125h8.75M904.75 707.125h5.25M931 707.125h5.25M950.25 707.125h3.5M962.5 707.125h1.75M1130.5 707.125h3.5M1135.75 707.125h3.5M1209.25 707.125h3.5M885.5 708.875h8.75M903 708.875h7M931 708.875h5.25M950.25 708.875h3.5M988.75 708.875h1.75M1130.5 708.875h1.75M1137.5 708.875h1.75M1169 708.875h3.5M1177.75 708.875h3.5M1209.25 708.875h5.25M883.75 710.625h8.75M903 710.625h12.25M929.25 710.625h8.75M948.5 710.625h5.25M988.75 710.625h1.75M1130.5 710.625h3.5M1137.5 710.625h3.5M1167.25 710.625h5.25M1176 710.625h5.25M1183 710.625h1.75M1205.75 710.625h1.75M1211 710.625h3.5M880.25 712.375h14M901.25 712.375h7M911.75 712.375h3.5M927.5 712.375h3.5M932.75 712.375h3.5M946.75 712.375h5.25M990.5 712.375h3.5M1011.5 712.375h3.5M1051.75 712.375h5.25M1130.5 712.375h5.25M1137.5 712.375h5.25M1167.25 712.375h17.5M1200.5 712.375h7M876.75 714.125h12.25M892.5 714.125h1.75M899.5 714.125h8.75M913.5 714.125h3.5M924 714.125h3.5M932.75 714.125h3.5M946.75 714.125h1.75M950.25 714.125h3.5M978.25 714.125h1.75M990.5 714.125h8.75M1009.75 714.125h7M1020.25 714.125h1.75M1050 714.125h7M1132.25 714.125h10.5M1155 714.125h1.75M1167.25 714.125h26.25M1197 714.125h8.75M873.25 715.875h5.25M880.25 715.875h8.75M892.5 715.875h5.25M899.5 715.875h8.75M911.75 715.875h7M922.25 715.875h3.5M931 715.875h7M945 715.875h3.5M952 715.875h1.75M957.25 715.875h3.5M974.75 715.875h5.25M990.5 715.875h15.75M1008 715.875h5.25M1018.5 715.875h5.25M1051.75 715.875h8.75M1062.25 715.875h7M1130.5 715.875h7M1139.25 715.875h7M1169 715.875h19.25M1190 715.875h14M873.25 717.625h14M892.5 717.625h29.75M932.75 717.625h5.25M945 717.625h3.5M952 717.625h10.5M974.75 717.625h7M990.5 717.625h24.5M1018.5 717.625h5.25M1027.25 717.625h1.75M1030.75 717.625h8.75M1043 717.625h3.5M1051.75 717.625h21M1099 717.625h3.5M1128.75 717.625h10.5M1141 717.625h8.75M1158.5 717.625h1.75M1172.5 717.625h15.75M1202.25 717.625h1.75M873.25 719.375h10.5M885.5 719.375h1.75M892.5 719.375h3.5M897.75 719.375h7M910 719.375h7M945 719.375h1.75M950.25 719.375h12.25M976.5 719.375h5.25M988.75 719.375h35M1025.5 719.375h3.5M1030.75 719.375h10.5M1046.5 719.375h1.75M1051.75 719.375h12.25M1072.75 719.375h7M1097.25 719.375h1.75M1102.5 719.375h3.5M1128.75 719.375h15.75M1148 719.375h1.75M1156.75 719.375h3.5M1170.75 719.375h15.75M864.5 721.125h8.75M885.5 721.125h14M903 721.125h1.75M911.75 721.125h5.25M948.5 721.125h15.75M971.25 721.125h1.75M974.75 721.125h7M987 721.125h10.5M999.25 721.125h19.25M1022 721.125h14M1048.25 721.125h14M1081.5 721.125h5.25M1095.5 721.125h3.5M1100.75 721.125h7M1128.75 721.125h15.75M1148 721.125h1.75M1156.75 721.125h3.5M1169 721.125h12.25M1183 721.125h3.5M862.75 722.875h3.5M868 722.875h3.5M887.25 722.875h12.25M904.75 722.875h1.75M946.75 722.875h49M997.5 722.875h14M1013.25 722.875h5.25M1023.75 722.875h12.25M1048.25 722.875h14M1085 722.875h3.5M1095.5 722.875h1.75M1100.75 722.875h7M1128.75 722.875h14M1149.75 722.875h1.75M1169 722.875h1.75M1174.25 722.875h3.5M1179.5 722.875h8.75M862.75 724.625h8.75M887.25 724.625h12.25M903 724.625h5.25M946.75 724.625h15.75M966 724.625h3.5M974.75 724.625h1.75M978.25 724.625h10.5M992.25 724.625h1.75M997.5 724.625h3.5M1009.75 724.625h7M1030.75 724.625h5.25M1051.75 724.625h8.75M1086.75 724.625h5.25M1093.75 724.625h3.5M1099 724.625h1.75M1102.5 724.625h5.25M1127 724.625h5.25M1137.5 724.625h5.25M1149.75 724.625h3.5M1156.75 724.625h3.5M1162 724.625h1.75M1165.5 724.625h5.25M1174.25 724.625h12.25M780.5 726.375h5.25M862.75 726.375h8.75M892.5 726.375h14M946.75 726.375h7M981.75 726.375h5.25M997.5 726.375h3.5M1011.5 726.375h3.5M1057 726.375h1.75M1106 726.375h1.75M1125.25 726.375h7M1137.5 726.375h3.5M1151.5 726.375h17.5M1172.5 726.375h14M777 728.125h10.5M861 728.125h3.5M869.75 728.125h1.75M892.5 728.125h10.5M946.75 728.125h7M1125.25 728.125h12.25M1151.5 728.125h5.25M1167.25 728.125h1.75M1170.75 728.125h12.25M777 729.875h1.75M782.25 729.875h5.25M869.75 729.875h3.5M892.5 729.875h7M922.25 729.875h3.5M946.75 729.875h8.75M978.25 729.875h5.25M1118.25 729.875h1.75M1123.5 729.875h8.75M1151.5 729.875h3.5M1165.5 729.875h1.75M1170.75 729.875h14M1193.5 729.875h1.75M771.75 731.625h7M785.75 731.625h1.75M869.75 731.625h3.5M894.25 731.625h5.25M946.75 731.625h8.75M978.25 731.625h8.75M1041.25 731.625h1.75M1121.75 731.625h5.25M1128.75 731.625h3.5M1165.5 731.625h3.5M1170.75 731.625h10.5M771.75 733.375h5.25M785.75 733.375h3.5M868 733.375h3.5M978.25 733.375h8.75M1123.5 733.375h1.75M1130.5 733.375h3.5M1149.75 733.375h3.5M1163.75 733.375h10.5M1177.75 733.375h3.5M770 735.125h1.75M773.5 735.125h1.75M789.25 735.125h8.75M864.5 735.125h7M978.25 735.125h7M1130.5 735.125h1.75M1148 735.125h5.25M1162 735.125h8.75M1177.75 735.125h3.5M773.5 736.875h1.75M796.25 736.875h7M810.25 736.875h1.75M859.25 736.875h5.25M866.25 736.875h3.5M1128.75 736.875h3.5M1148 736.875h3.5M1160.25 736.875h21M771.75 738.625h1.75M803.25 738.625h1.75M812 738.625h3.5M857.5 738.625h3.5M868 738.625h1.75M1127 738.625h5.25M1148 738.625h3.5M1162 738.625h3.5M1172.5 738.625h10.5M1193.5 738.625h1.75M761.25 740.375h1.75M770 740.375h3.5M803.25 740.375h5.25M857.5 740.375h1.75M1172.5 740.375h10.5M1190 740.375h5.25M1202.25 740.375h1.75M759.5 742.125h1.75M763 742.125h1.75M770 742.125h3.5M805 742.125h7M815.5 742.125h1.75M848.75 742.125h1.75M857.5 742.125h1.75M1174.25 742.125h10.5M1186.5 742.125h10.5M749 743.875h12.25M764.75 743.875h1.75M810.25 743.875h8.75M850.5 743.875h1.75M861 743.875h3.5M1165.5 743.875h3.5M1174.25 743.875h22.75M726.25 745.625h3.5M745.5 745.625h5.25M756 745.625h5.25M764.75 745.625h1.75M815.5 745.625h7M861 745.625h5.25M1167.25 745.625h3.5M1176 745.625h5.25M1184.75 745.625h3.5M1193.5 745.625h1.75M733.25 747.375h3.5M745.5 747.375h1.75M759.5 747.375h5.25M817.25 747.375h7M840 747.375h1.75M861 747.375h5.25M1169 747.375h1.75M735 749.125h1.75M745.5 749.125h1.75M759.5 749.125h5.25M822.5 749.125h15.75M1169 749.125h1.75M735 750.875h3.5M743.75 750.875h1.75M759.5 750.875h3.5M736.75 752.625h3.5M742 752.625h1.75M761.25 752.625h1.75M740.25 754.375h8.75M740.25 756.125h10.5M742 757.875h5.25M749 757.875h3.5M743.75 759.625h5.25M745.5 761.375h1.75" stroke="#b874c8"/><path d="M883.75 652.875h3.5M885.5 654.625h1.75M883.75 656.375h1.75M883.75 658.125h1.75M880.25 659.875h3.5M873.25 661.625h7M875 663.375h3.5M889 663.375h1.75M875 665.125h7M885.5 665.125h5.25M876.75 666.875h3.5M589.75 679.125h1.75M589.75 684.375h1.75M588 686.125h1.75M1204 686.125h1.75M1207.5 686.125h5.25M1204 687.875h8.75M1205.75 689.625h7M1204 691.375h8.75M967.75 693.125h3.5M1202.25 693.125h10.5M962.5 694.875h12.25M1202.25 694.875h8.75M960.75 696.625h15.75M1202.25 696.625h5.25M959 698.375h17.5M770 700.125h1.75M959 700.125h19.25M1106 700.125h5.25M768.25 701.875h5.25M889 701.875h1.75M931 701.875h8.75M957.25 701.875h5.25M966 701.875h12.25M1106 701.875h3.5M1190 701.875h5.25M768.25 703.625h7M875 703.625h3.5M889 703.625h5.25M929.25 703.625h10.5M966 703.625h10.5M1036 703.625h5.25M1186.5 703.625h10.5M1211 703.625h5.25M768.25 705.375h8.75M869.75 705.375h1.75M873.25 705.375h12.25M889 705.375h1.75M892.5 705.375h5.25M901.25 705.375h10.5M924 705.375h8.75M955.5 705.375h3.5M966 705.375h7M1037.75 705.375h5.25M1130.5 705.375h5.25M1137.5 705.375h1.75M1170.75 705.375h1.75M1188.25 705.375h10.5M768.25 707.125h8.75M866.25 707.125h19.25M894.25 707.125h10.5M910 707.125h1.75M922.25 707.125h8.75M953.75 707.125h8.75M964.25 707.125h7M1037.75 707.125h5.25M1127 707.125h3.5M1139.25 707.125h1.75M1169 707.125h10.5M1188.25 707.125h12.25M773.5 708.875h5.25M864.5 708.875h21M894.25 708.875h8.75M910 708.875h21M953.75 708.875h17.5M1002.75 708.875h3.5M1036 708.875h8.75M1125.25 708.875h5.25M1139.25 708.875h3.5M1167.25 708.875h1.75M1172.5 708.875h5.25M1186.5 708.875h14M775.25 710.625h1.75M864.5 710.625h19.25M892.5 710.625h10.5M915.25 710.625h14M953.75 710.625h19.25M990.5 710.625h3.5M1002.75 710.625h3.5M1036 710.625h8.75M1050 710.625h1.75M1125.25 710.625h5.25M1141 710.625h5.25M1165.5 710.625h1.75M1172.5 710.625h3.5M1184.75 710.625h19.25M864.5 712.375h15.75M894.25 712.375h7M908.25 712.375h3.5M915.25 712.375h12.25M952 712.375h21M981.75 712.375h8.75M994 712.375h17.5M1030.75 712.375h15.75M1048.25 712.375h3.5M1123.5 712.375h7M1142.75 712.375h5.25M1165.5 712.375h1.75M1184.75 712.375h15.75M864.5 714.125h12.25M889 714.125h3.5M894.25 714.125h5.25M908.25 714.125h5.25M917 714.125h7M953.75 714.125h22.75M980 714.125h10.5M999.25 714.125h10.5M1016.75 714.125h3.5M1022 714.125h28M1123.5 714.125h8.75M1142.75 714.125h7M1193.5 714.125h3.5M862.75 715.875h10.5M889 715.875h3.5M897.75 715.875h1.75M908.25 715.875h3.5M918.75 715.875h3.5M953.75 715.875h3.5M960.75 715.875h14M980 715.875h10.5M1006.25 715.875h1.75M1013.25 715.875h5.25M1023.75 715.875h28M1060.5 715.875h1.75M1069.25 715.875h1.75M1093.75 715.875h3.5M1099 715.875h5.25M1121.75 715.875h8.75M1146.25 715.875h15.75M1163.75 715.875h5.25M859.25 717.625h14M887.25 717.625h5.25M962.5 717.625h12.25M981.75 717.625h8.75M1015 717.625h3.5M1023.75 717.625h3.5M1029 717.625h1.75M1039.5 717.625h3.5M1046.5 717.625h5.25M1072.75 717.625h3.5M1093.75 717.625h5.25M1102.5 717.625h5.25M1120 717.625h8.75M1149.75 717.625h8.75M1160.25 717.625h12.25M782.25 719.375h3.5M855.75 719.375h17.5M887.25 719.375h5.25M962.5 719.375h14M981.75 719.375h7M1023.75 719.375h1.75M1029 719.375h1.75M1048.25 719.375h3.5M1090.25 719.375h7M1120 719.375h8.75M1149.75 719.375h7M1160.25 719.375h10.5M780.5 721.125h8.75M854 721.125h10.5M899.5 721.125h3.5M964.25 721.125h7M973 721.125h1.75M981.75 721.125h5.25M1088.5 721.125h7M1118.25 721.125h10.5M1149.75 721.125h7M1160.25 721.125h8.75M777 722.875h12.25M859.25 722.875h3.5M899.5 722.875h5.25M1011.5 722.875h1.75M1088.5 722.875h7M1107.75 722.875h5.25M1116.5 722.875h12.25M1151.5 722.875h17.5M777 724.625h12.25M859.25 724.625h3.5M899.5 724.625h3.5M1092 724.625h1.75M1107.75 724.625h19.25M1132.25 724.625h5.25M1153.25 724.625h3.5M1160.25 724.625h1.75M1163.75 724.625h1.75M775.25 726.375h5.25M785.75 726.375h3.5M805 726.375h1.75M859.25 726.375h3.5M1107.75 726.375h17.5M1132.25 726.375h5.25M773.5 728.125h3.5M787.5 728.125h5.25M803.25 728.125h3.5M864.5 728.125h5.25M1114.75 728.125h10.5M773.5 729.875h3.5M787.5 729.875h8.75M801.5 729.875h3.5M864.5 729.875h5.25M1120 729.875h3.5M787.5 731.625h19.25M864.5 731.625h5.25M1120 731.625h1.75M1127 731.625h1.75M789.25 733.375h15.75M864.5 733.375h3.5M1125.25 733.375h5.25M1174.25 733.375h3.5M798 735.125h12.25M1125.25 735.125h5.25M1170.75 735.125h7M766.5 736.875h7M803.25 736.875h7M1125.25 736.875h3.5M759.5 738.625h5.25M766.5 738.625h5.25M805 738.625h7M815.5 738.625h5.25M752.5 740.375h1.75M757.75 740.375h3.5M763 740.375h7M808.5 740.375h12.25M750.75 742.125h8.75M764.75 742.125h5.25M812 742.125h3.5M817.25 742.125h3.5M724.5 743.875h3.5M766.5 743.875h3.5M819 743.875h5.25M733.25 745.625h5.25M740.25 745.625h3.5M822.5 745.625h1.75M736.75 747.375h8.75M824.25 747.375h15.75M736.75 749.125h8.75M738.5 750.875h5.25M740.25 752.625h1.75" stroke="#a44cbc"/><path d="M507.5 560.125h1.75M509.25 561.875h1.75M469 568.875h1.75M525 568.875h1.75M469 570.625h1.75M525 570.625h1.75M469 572.375h1.75M470.75 574.125h1.75M470.75 575.875h1.75M465.5 577.625h1.75M472.5 588.125h1.75M472.5 589.875h3.5M484.75 596.875h1.75M484.75 598.625h1.75M477.75 600.375h1.75M486.5 602.125h1.75M467.25 603.875h1.75M488.25 603.875h1.75M516.25 603.875h1.75M484.75 607.375h1.75M484.75 610.875h1.75M479.5 616.125h1.75M481.25 617.875h1.75M546 633.625h1.75M498.75 647.625h3.5M890.75 658.125h1.75M890.75 659.875h1.75M591.5 673.875h1.75M894.25 673.875h1.75M992.25 673.875h3.5M894.25 675.625h1.75M992.25 675.625h5.25M894.25 677.375h1.75M994 677.375h3.5M1219.75 677.375h1.75M894.25 679.125h1.75M897.75 679.125h5.25M994 679.125h1.75M581 680.875h1.75M897.75 680.875h7M906.5 680.875h3.5M579.25 682.625h1.75M883.75 682.625h3.5M897.75 682.625h14M1207.5 682.625h1.75M883.75 684.375h5.25M897.75 684.375h7M906.5 684.375h5.25M1204 684.375h5.25M1216.25 684.375h7M882 686.125h7M897.75 686.125h5.25M908.25 686.125h1.75M1202.25 686.125h1.75M1205.75 686.125h1.75M1212.75 686.125h10.5M876.75 687.875h1.75M882 687.875h8.75M897.75 687.875h1.75M901.25 687.875h1.75M988.75 687.875h1.75M1202.25 687.875h1.75M1212.75 687.875h10.5M876.75 689.625h3.5M882 689.625h15.75M994 689.625h5.25M1204 689.625h1.75M1212.75 689.625h3.5M1218 689.625h5.25M875 691.375h22.75M992.25 691.375h7M1219.75 691.375h3.5M875 693.125h3.5M883.75 693.125h14M990.5 693.125h7M1219.75 693.125h1.75M873.25 694.875h5.25M883.75 694.875h17.5M955.5 694.875h3.5M960.75 694.875h1.75M974.75 694.875h10.5M990.5 694.875h5.25M1029 694.875h1.75M1176 694.875h5.25M1183 694.875h1.75M875 696.625h3.5M883.75 696.625h19.25M920.5 696.625h1.75M943.25 696.625h3.5M955.5 696.625h5.25M976.5 696.625h10.5M990.5 696.625h3.5M1172.5 696.625h1.75M1176 696.625h10.5M875 698.375h5.25M883.75 698.375h19.25M939.75 698.375h8.75M950.25 698.375h1.75M953.75 698.375h3.5M976.5 698.375h1.75M981.75 698.375h5.25M990.5 698.375h1.75M1155 698.375h3.5M1162 698.375h3.5M1176 698.375h3.5M1181.25 698.375h5.25M1216.25 698.375h1.75M875 700.125h1.75M883.75 700.125h10.5M896 700.125h3.5M911.75 700.125h5.25M938 700.125h21M980 700.125h7M1058.75 700.125h1.75M1153.25 700.125h5.25M1162 700.125h3.5M1184.75 700.125h3.5M1216.25 700.125h1.75M875 701.875h1.75M890.75 701.875h3.5M911.75 701.875h3.5M941.5 701.875h15.75M980 701.875h7M997.5 701.875h7M1153.25 701.875h3.5M1186.5 701.875h1.75M1214.5 701.875h3.5M910 703.625h3.5M943.25 703.625h5.25M953.75 703.625h1.75M976.5 703.625h28M1106 703.625h3.5M1137.5 703.625h3.5M1153.25 703.625h3.5M1170.75 703.625h1.75M1179.5 703.625h1.75M1184.75 703.625h1.75M764.75 705.375h3.5M950.25 705.375h3.5M976.5 705.375h28M1139.25 705.375h1.75M1155 705.375h1.75M1172.5 705.375h3.5M1177.75 705.375h8.75M1198.75 705.375h1.75M1209.25 705.375h1.75M763 707.125h5.25M911.75 707.125h1.75M978.25 707.125h17.5M997.5 707.125h5.25M1120 707.125h1.75M1155 707.125h1.75M1167.25 707.125h1.75M1179.5 707.125h7M1200.5 707.125h1.75M1205.75 707.125h3.5M763 708.875h10.5M978.25 708.875h10.5M990.5 708.875h12.25M1018.5 708.875h5.25M1050 708.875h3.5M1113 708.875h5.25M1120 708.875h1.75M1153.25 708.875h3.5M1163.75 708.875h3.5M1181.25 708.875h5.25M1200.5 708.875h1.75M1204 708.875h5.25M761.25 710.625h12.25M978.25 710.625h10.5M994 710.625h7M1011.5 710.625h14M1044.75 710.625h1.75M1051.75 710.625h7M1111.25 710.625h1.75M1146.25 710.625h1.75M1153.25 710.625h3.5M1181.25 710.625h1.75M1204 710.625h1.75M761.25 712.375h3.5M973 712.375h8.75M1015 712.375h10.5M1057 712.375h12.25M1148 712.375h10.5M976.5 714.125h1.75M1057 714.125h12.25M1149.75 714.125h5.25M1156.75 714.125h3.5M1165.5 714.125h1.75M861 715.875h1.75M1071 715.875h7M1097.25 715.875h1.75M855.75 717.625h1.75M1076.25 717.625h7M1111.25 717.625h7M852.25 719.375h3.5M1079.75 719.375h8.75M1106 719.375h12.25M852.25 721.125h1.75M1086.75 721.125h1.75M1107.75 721.125h10.5M1113 722.875h3.5M771.75 735.125h1.75M862.75 735.125h1.75M812 736.875h7M845.25 740.375h1.75M843.5 742.125h3.5M852.25 742.125h5.25M747.25 743.875h1.75M841.75 743.875h5.25M840 745.625h1.75" stroke="#b8ecfc"/><path d="M507.5 556.625h1.75M456.75 558.375h3.5M509.25 558.375h1.75M528.5 558.375h1.75M460.25 560.125h3.5M505.75 560.125h1.75M509.25 560.125h1.75M528.5 560.125h1.75M514.5 561.875h1.75M509.25 563.625h3.5M465.5 565.375h1.75M526.75 570.625h1.75M528.5 574.125h1.75M530.25 575.875h1.75M532 577.625h1.75M505.75 579.375h1.75M533.75 579.375h1.75M516.25 581.125h1.75M519.75 581.125h1.75M474.25 584.625h1.75M483 591.625h1.75M479.5 596.875h1.75M470.75 600.375h1.75M474.25 600.375h1.75M469 602.125h1.75M472.5 602.125h1.75M512.75 602.125h5.25M465.5 603.875h1.75M514.5 603.875h1.75M518 603.875h1.75M467.25 605.625h1.75M514.5 605.625h1.75M518 605.625h1.75M476 607.375h1.75M500.5 607.375h1.75M521.5 609.125h1.75M479.5 612.625h1.75M486.5 612.625h3.5M526.75 612.625h1.75M484.75 621.375h1.75M537.25 626.625h1.75M537.25 628.375h1.75M547.75 631.875h1.75M498.75 645.875h1.75M589.75 647.625h1.75M591.5 649.375h1.75M883.75 651.125h1.75M887.25 654.625h1.75M890.75 656.375h1.75M882 658.125h1.75M892.5 658.125h1.75M593.25 659.875h1.75M876.75 659.875h3.5M892.5 659.875h1.75M1242.5 661.625h1.75M493.5 663.375h1.75M890.75 663.375h1.75M890.75 665.125h1.75M883.75 666.875h7M1232 668.625h3.5M1237.25 668.625h1.75M598.5 670.375h1.75M892.5 670.375h1.75M990.5 670.375h1.75M1232 670.375h5.25M518 672.125h1.75M596.75 672.125h1.75M892.5 672.125h3.5M990.5 672.125h3.5M1219.75 672.125h1.75M1233.75 672.125h1.75M519.75 673.875h3.5M593.25 673.875h3.5M890.75 673.875h3.5M896 673.875h1.75M990.5 673.875h1.75M995.75 673.875h1.75M1218 673.875h7M523.25 675.625h1.75M591.5 675.625h1.75M892.5 675.625h1.75M896 675.625h1.75M899.5 675.625h1.75M990.5 675.625h1.75M997.5 675.625h1.75M1193.5 675.625h1.75M1216.25 675.625h10.5M535.5 677.375h1.75M593.25 677.375h1.75M890.75 677.375h3.5M896 677.375h7M992.25 677.375h1.75M1193.5 677.375h3.5M1216.25 677.375h3.5M1221.5 677.375h3.5M890.75 679.125h3.5M896 679.125h1.75M903 679.125h8.75M915.25 679.125h1.75M992.25 679.125h1.75M995.75 679.125h1.75M1193.5 679.125h3.5M1218 679.125h5.25M544.25 680.875h1.75M582.75 680.875h1.75M882 680.875h5.25M892.5 680.875h5.25M904.75 680.875h1.75M910 680.875h8.75M992.25 680.875h5.25M1207.5 680.875h3.5M1216.25 680.875h8.75M882 682.625h1.75M887.25 682.625h3.5M911.75 682.625h7M992.25 682.625h3.5M1205.75 682.625h1.75M1209.25 682.625h3.5M1214.5 682.625h10.5M574 684.375h5.25M880.25 684.375h3.5M889 684.375h1.75M904.75 684.375h1.75M911.75 684.375h3.5M1200.5 684.375h3.5M1209.25 684.375h7M876.75 686.125h5.25M889 686.125h3.5M894.25 686.125h3.5M903 686.125h5.25M910 686.125h3.5M987 686.125h5.25M995.75 686.125h5.25M1200.5 686.125h1.75M875 687.875h1.75M878.5 687.875h3.5M890.75 687.875h7M899.5 687.875h1.75M903 687.875h7M952 687.875h1.75M967.75 687.875h1.75M987 687.875h1.75M990.5 687.875h10.5M1200.5 687.875h1.75M1223.25 687.875h1.75M875 689.625h1.75M880.25 689.625h1.75M897.75 689.625h1.75M901.25 689.625h1.75M904.75 689.625h7M952 689.625h5.25M987 689.625h7M999.25 689.625h3.5M1200.5 689.625h3.5M1216.25 689.625h1.75M558.25 691.375h1.75M873.25 691.375h1.75M897.75 691.375h1.75M906.5 691.375h5.25M936.25 691.375h7M952 691.375h8.75M985.25 691.375h7M999.25 691.375h5.25M1202.25 691.375h1.75M1212.75 691.375h7M873.25 693.125h1.75M897.75 693.125h3.5M904.75 693.125h7M939.75 693.125h5.25M952 693.125h10.5M973 693.125h17.5M997.5 693.125h7M1029 693.125h1.75M1128.75 693.125h3.5M1176 693.125h1.75M1184.75 693.125h8.75M1195.25 693.125h7M1212.75 693.125h7M901.25 694.875h10.5M920.5 694.875h3.5M939.75 694.875h8.75M952 694.875h3.5M959 694.875h1.75M985.25 694.875h5.25M1001 694.875h3.5M1027.25 694.875h1.75M1030.75 694.875h1.75M1128.75 694.875h5.25M1156.75 694.875h1.75M1162 694.875h3.5M1172.5 694.875h3.5M1181.25 694.875h1.75M1184.75 694.875h10.5M1197 694.875h5.25M1211 694.875h8.75M833 696.625h1.75M873.25 696.625h1.75M903 696.625h8.75M918.75 696.625h1.75M922.25 696.625h3.5M939.75 696.625h3.5M946.75 696.625h3.5M953.75 696.625h1.75M987 696.625h3.5M994 696.625h1.75M1001 696.625h1.75M1004.5 696.625h1.75M1027.25 696.625h5.25M1085 696.625h5.25M1128.75 696.625h5.25M1153.25 696.625h19.25M1174.25 696.625h1.75M1186.5 696.625h5.25M1197 696.625h3.5M1207.5 696.625h12.25M831.25 698.375h5.25M873.25 698.375h1.75M903 698.375h1.75M911.75 698.375h12.25M934.5 698.375h5.25M948.5 698.375h1.75M952 698.375h1.75M957.25 698.375h1.75M987 698.375h3.5M992.25 698.375h1.75M1001 698.375h1.75M1004.5 698.375h5.25M1027.25 698.375h5.25M1057 698.375h5.25M1083.25 698.375h1.75M1086.75 698.375h5.25M1130.5 698.375h3.5M1153.25 698.375h1.75M1158.5 698.375h3.5M1165.5 698.375h10.5M1179.5 698.375h1.75M1186.5 698.375h3.5M1212.75 698.375h3.5M831.25 700.125h1.75M873.25 700.125h1.75M894.25 700.125h1.75M899.5 700.125h5.25M917 700.125h3.5M931 700.125h7M987 700.125h19.25M1029 700.125h5.25M1057 700.125h1.75M1060.5 700.125h1.75M1085 700.125h8.75M1151.5 700.125h1.75M1158.5 700.125h3.5M1165.5 700.125h1.75M1170.75 700.125h14M1188.25 700.125h3.5M1212.75 700.125h3.5M894.25 701.875h8.75M910 701.875h1.75M915.25 701.875h1.75M987 701.875h10.5M1004.5 701.875h1.75M1029 701.875h7M1057 701.875h5.25M1083.25 701.875h1.75M1086.75 701.875h7M1100.75 701.875h1.75M1104.25 701.875h1.75M1109.5 701.875h1.75M1137.5 701.875h5.25M1151.5 701.875h1.75M1156.75 701.875h1.75M1162 701.875h5.25M1170.75 701.875h15.75M1188.25 701.875h1.75M1197 701.875h3.5M1211 701.875h3.5M764.75 703.625h3.5M894.25 703.625h5.25M904.75 703.625h5.25M913.5 703.625h1.75M927.5 703.625h1.75M1004.5 703.625h1.75M1034.25 703.625h1.75M1058.75 703.625h5.25M1081.5 703.625h8.75M1092 703.625h1.75M1104.25 703.625h1.75M1109.5 703.625h1.75M1128.75 703.625h8.75M1141 703.625h1.75M1151.5 703.625h1.75M1156.75 703.625h1.75M1165.5 703.625h1.75M1169 703.625h1.75M1172.5 703.625h7M1181.25 703.625h3.5M1197 703.625h3.5M1209.25 703.625h1.75M750.75 705.375h3.5M763 705.375h1.75M864.5 705.375h3.5M897.75 705.375h1.75M911.75 705.375h3.5M974.75 705.375h1.75M1004.5 705.375h1.75M1023.75 705.375h3.5M1060.5 705.375h3.5M1083.25 705.375h7M1104.25 705.375h7M1116.5 705.375h7M1128.75 705.375h1.75M1141 705.375h1.75M1151.5 705.375h3.5M1156.75 705.375h1.75M1167.25 705.375h3.5M1176 705.375h1.75M1186.5 705.375h1.75M1200.5 705.375h1.75M1207.5 705.375h1.75M862.75 707.125h3.5M913.5 707.125h5.25M971.25 707.125h1.75M974.75 707.125h3.5M995.75 707.125h1.75M1002.75 707.125h3.5M1018.5 707.125h5.25M1051.75 707.125h3.5M1060.5 707.125h3.5M1086.75 707.125h1.75M1106 707.125h14M1121.75 707.125h3.5M1141 707.125h1.75M1153.25 707.125h1.75M1156.75 707.125h1.75M1162 707.125h5.25M1186.5 707.125h1.75M1202.25 707.125h3.5M761.25 708.875h1.75M847 708.875h1.75M862.75 708.875h1.75M971.25 708.875h7M1013.25 708.875h5.25M1023.75 708.875h1.75M1044.75 708.875h1.75M1053.5 708.875h3.5M1060.5 708.875h5.25M1106 708.875h7M1118.25 708.875h1.75M1121.75 708.875h3.5M1142.75 708.875h5.25M1149.75 708.875h3.5M1156.75 708.875h3.5M1162 708.875h1.75M1202.25 708.875h1.75M759.5 710.625h1.75M773.5 710.625h1.75M845.25 710.625h5.25M973 710.625h5.25M1001 710.625h1.75M1009.75 710.625h1.75M1030.75 710.625h3.5M1046.5 710.625h3.5M1058.75 710.625h8.75M1069.25 710.625h1.75M1106 710.625h5.25M1113 710.625h12.25M1148 710.625h5.25M1156.75 710.625h8.75M764.75 712.375h8.75M775.25 712.375h1.75M845.25 712.375h8.75M862.75 712.375h1.75M1025.5 712.375h5.25M1046.5 712.375h1.75M1069.25 712.375h10.5M1086.75 712.375h3.5M1109.5 712.375h8.75M1120 712.375h1.75M1158.5 712.375h7M761.25 714.125h1.75M764.75 714.125h8.75M848.75 714.125h8.75M1069.25 714.125h10.5M1086.75 714.125h3.5M1095.5 714.125h8.75M1111.25 714.125h7M1160.25 714.125h5.25M764.75 715.875h3.5M770 715.875h7M850.5 715.875h10.5M1078 715.875h3.5M1086.75 715.875h3.5M1104.25 715.875h15.75M1162 715.875h1.75M771.75 717.625h5.25M848.75 717.625h7M857.5 717.625h1.75M1083.25 717.625h7M1107.75 717.625h3.5M1118.25 717.625h1.75M773.5 719.375h7M848.75 719.375h3.5M1088.5 719.375h1.75M1118.25 719.375h1.75M773.5 721.125h7M850.5 721.125h1.75M770 733.375h1.75M843.5 733.375h1.75M768.25 735.125h1.75M815.5 735.125h1.75M841.75 735.125h3.5M859.25 735.125h3.5M852.25 736.875h1.75M855.75 736.875h1.75M843.5 738.625h1.75M854 738.625h3.5M843.5 740.375h1.75M855.75 740.375h1.75M747.25 742.125h3.5M850.5 742.125h1.75M745.5 743.875h1.75M840 743.875h1.75M743.75 745.625h1.75M824.25 745.625h3.5" stroke="#88d8f4"/><path d="M460.25 556.625h1.75M455 558.375h1.75M511 560.125h1.75M456.75 561.875h1.75M526.75 561.875h1.75M526.75 567.125h1.75M498.75 572.375h1.75M476 577.625h1.75M521.5 577.625h1.75M525 579.375h3.5M535.5 579.375h1.75M472.5 581.125h1.75M505.75 581.125h1.75M514.5 581.125h1.75M528.5 581.125h3.5M533.75 581.125h1.75M472.5 582.875h1.75M514.5 582.875h1.75M535.5 582.875h1.75M528.5 584.625h3.5M455 586.375h1.75M455 588.125h1.75M481.25 588.125h1.75M483 589.875h1.75M479.5 593.375h1.75M512.75 603.875h1.75M512.75 605.625h1.75M469 607.375h1.75M498.75 607.375h1.75M502.25 607.375h1.75M512.75 607.375h1.75M474.25 609.125h1.75M523.25 609.125h3.5M493.5 610.875h1.75M525 610.875h3.5M488.25 614.375h1.75M526.75 614.375h3.5M477.75 616.125h1.75M490 616.125h1.75M528.5 616.125h3.5M532 617.875h1.75M486.5 621.375h3.5M488.25 626.625h1.75M539 626.625h3.5M535.5 630.125h1.75M476 631.875h1.75M537.25 631.875h1.75M537.25 633.625h1.75M579.25 635.375h1.75M497 640.625h3.5M589.75 644.125h1.75M477.75 649.375h1.75M593.25 651.125h1.75M605.5 651.125h1.75M595 652.875h1.75M602 652.875h1.75M605.5 652.875h1.75M882 652.875h1.75M598.5 654.625h1.75M883.75 654.625h1.75M596.75 656.375h1.75M882 656.375h1.75M596.75 658.125h1.75M875 658.125h1.75M878.5 658.125h3.5M479.5 659.875h1.75M873.25 659.875h3.5M1242.5 659.875h1.75M483 661.625h1.75M1244.25 661.625h3.5M481.25 663.375h1.75M892.5 663.375h1.75M1235.5 663.375h3.5M1240.75 663.375h5.25M491.75 665.125h1.75M498.75 665.125h1.75M593.25 665.125h1.75M1235.5 665.125h3.5M1242.5 665.125h1.75M507.5 666.875h1.75M880.25 666.875h1.75M890.75 666.875h1.75M1232 666.875h10.5M889 668.625h5.25M1235.5 668.625h1.75M511 670.375h1.75M890.75 670.375h1.75M894.25 670.375h3.5M988.75 670.375h1.75M890.75 672.125h1.75M896 672.125h1.75M899.5 672.125h1.75M988.75 672.125h1.75M1214.5 672.125h1.75M1223.25 672.125h3.5M1230.25 672.125h3.5M897.75 673.875h5.25M953.75 673.875h1.75M1193.5 673.875h1.75M1214.5 673.875h3.5M1225 673.875h1.75M1230.25 673.875h3.5M593.25 675.625h1.75M889 675.625h3.5M897.75 675.625h1.75M901.25 675.625h5.25M952 675.625h3.5M1191.75 675.625h1.75M1195.25 675.625h1.75M1209.25 675.625h7M1226.75 675.625h1.75M889 677.375h1.75M903 677.375h5.25M910 677.375h1.75M917 677.375h1.75M952 677.375h3.5M990.5 677.375h1.75M997.5 677.375h3.5M1191.75 677.375h1.75M1197 677.375h1.75M1209.25 677.375h7M1225 677.375h1.75M528.5 679.125h1.75M535.5 679.125h1.75M591.5 679.125h3.5M882 679.125h8.75M911.75 679.125h3.5M917 679.125h1.75M952 679.125h3.5M990.5 679.125h1.75M997.5 679.125h3.5M1197 679.125h1.75M1207.5 679.125h10.5M1223.25 679.125h3.5M540.75 680.875h1.75M887.25 680.875h5.25M918.75 680.875h1.75M952 680.875h1.75M990.5 680.875h1.75M997.5 680.875h1.75M1193.5 680.875h7M1205.75 680.875h1.75M1211 680.875h5.25M1225 680.875h1.75M544.25 682.625h1.75M582.75 682.625h3.5M880.25 682.625h1.75M890.75 682.625h7M918.75 682.625h1.75M952 682.625h3.5M988.75 682.625h3.5M995.75 682.625h3.5M1006.25 682.625h5.25M1193.5 682.625h1.75M1198.75 682.625h7M1212.75 682.625h1.75M1225 682.625h1.75M542.5 684.375h1.75M876.75 684.375h3.5M890.75 684.375h7M915.25 684.375h3.5M952 684.375h3.5M971.25 684.375h3.5M987 684.375h15.75M1006.25 684.375h7M1198.75 684.375h1.75M1223.25 684.375h1.75M574 686.125h1.75M873.25 686.125h3.5M892.5 686.125h1.75M913.5 686.125h3.5M938 686.125h1.75M950.25 686.125h5.25M966 686.125h8.75M985.25 686.125h1.75M992.25 686.125h3.5M1001 686.125h14M1198.75 686.125h1.75M1223.25 686.125h1.75M873.25 687.875h1.75M910 687.875h5.25M936.25 687.875h1.75M948.5 687.875h3.5M953.75 687.875h7M966 687.875h1.75M969.5 687.875h3.5M985.25 687.875h1.75M1001 687.875h1.75M1009.75 687.875h5.25M1198.75 687.875h1.75M561.75 689.625h1.75M871.5 689.625h3.5M899.5 689.625h1.75M903 689.625h1.75M911.75 689.625h1.75M936.25 689.625h5.25M943.25 689.625h1.75M948.5 689.625h3.5M957.25 689.625h3.5M967.75 689.625h3.5M983.5 689.625h3.5M1002.75 689.625h3.5M1013.25 689.625h3.5M1186.5 689.625h3.5M1198.75 689.625h1.75M560 691.375h1.75M563.5 691.375h5.25M570.5 691.375h1.75M871.5 691.375h1.75M899.5 691.375h7M911.75 691.375h1.75M934.5 691.375h1.75M943.25 691.375h8.75M960.75 691.375h1.75M967.75 691.375h17.5M1004.5 691.375h1.75M1015 691.375h3.5M1027.25 691.375h1.75M1030.75 691.375h1.75M1162 691.375h1.75M1184.75 691.375h17.5M869.75 693.125h3.5M901.25 693.125h3.5M911.75 693.125h1.75M918.75 693.125h3.5M936.25 693.125h3.5M945 693.125h7M962.5 693.125h1.75M971.25 693.125h1.75M1004.5 693.125h1.75M1016.75 693.125h1.75M1025.5 693.125h3.5M1030.75 693.125h1.75M1132.25 693.125h3.5M1155 693.125h10.5M1174.25 693.125h1.75M1177.75 693.125h7M1193.5 693.125h1.75M572.25 694.875h1.75M862.75 694.875h1.75M869.75 694.875h3.5M911.75 694.875h1.75M918.75 694.875h1.75M924 694.875h1.75M938 694.875h1.75M948.5 694.875h3.5M995.75 694.875h5.25M1004.5 694.875h3.5M1025.5 694.875h1.75M1086.75 694.875h3.5M1127 694.875h1.75M1134 694.875h1.75M1153.25 694.875h3.5M1158.5 694.875h3.5M1165.5 694.875h7M1195.25 694.875h1.75M829.5 696.625h3.5M868 696.625h5.25M911.75 696.625h7M925.75 696.625h1.75M931 696.625h8.75M950.25 696.625h3.5M999.25 696.625h1.75M1002.75 696.625h1.75M1006.25 696.625h1.75M1025.5 696.625h1.75M1032.5 696.625h1.75M1060.5 696.625h1.75M1083.25 696.625h1.75M1090.25 696.625h1.75M1134 696.625h3.5M1151.5 696.625h1.75M1191.75 696.625h5.25M1200.5 696.625h1.75M827.75 698.375h3.5M868 698.375h5.25M904.75 698.375h7M924 698.375h3.5M929.25 698.375h5.25M994 698.375h1.75M997.5 698.375h3.5M1002.75 698.375h1.75M1009.75 698.375h1.75M1025.5 698.375h1.75M1032.5 698.375h3.5M1062.25 698.375h1.75M1069.25 698.375h3.5M1074.5 698.375h1.75M1078 698.375h3.5M1092 698.375h1.75M1099 698.375h3.5M1109.5 698.375h7M1128.75 698.375h1.75M1139.25 698.375h3.5M1148 698.375h5.25M1190 698.375h17.5M1209.25 698.375h3.5M768.25 700.125h1.75M829.5 700.125h1.75M833 700.125h3.5M871.5 700.125h1.75M904.75 700.125h7M920.5 700.125h3.5M925.75 700.125h5.25M1006.25 700.125h3.5M1027.25 700.125h1.75M1034.25 700.125h1.75M1055.25 700.125h1.75M1062.25 700.125h1.75M1072.75 700.125h1.75M1079.75 700.125h1.75M1093.75 700.125h12.25M1111.25 700.125h8.75M1128.75 700.125h3.5M1137.5 700.125h7M1146.25 700.125h5.25M1167.25 700.125h3.5M1191.75 700.125h8.75M1211 700.125h1.75M750.75 701.875h1.75M766.5 701.875h1.75M773.5 701.875h1.75M834.75 701.875h1.75M866.25 701.875h3.5M873.25 701.875h1.75M903 701.875h7M917 701.875h3.5M925.75 701.875h5.25M1006.25 701.875h1.75M1027.25 701.875h1.75M1036 701.875h3.5M1055.25 701.875h1.75M1062.25 701.875h1.75M1085 701.875h1.75M1093.75 701.875h7M1102.5 701.875h1.75M1111.25 701.875h10.5M1128.75 701.875h3.5M1142.75 701.875h1.75M1146.25 701.875h5.25M1158.5 701.875h3.5M1167.25 701.875h3.5M1195.25 701.875h1.75M1209.25 701.875h1.75M752.5 703.625h3.5M763 703.625h1.75M775.25 703.625h1.75M778.75 703.625h1.75M864.5 703.625h10.5M899.5 703.625h5.25M915.25 703.625h5.25M925.75 703.625h1.75M1006.25 703.625h1.75M1016.75 703.625h1.75M1025.5 703.625h8.75M1041.25 703.625h1.75M1055.25 703.625h3.5M1064 703.625h1.75M1095.5 703.625h1.75M1100.75 703.625h3.5M1111.25 703.625h12.25M1127 703.625h1.75M1142.75 703.625h1.75M1146.25 703.625h5.25M1158.5 703.625h7M1167.25 703.625h1.75M1200.5 703.625h1.75M754.25 705.375h1.75M761.25 705.375h1.75M777 705.375h3.5M847 705.375h1.75M862.75 705.375h1.75M868 705.375h1.75M871.5 705.375h1.75M899.5 705.375h1.75M915.25 705.375h7M973 705.375h1.75M1016.75 705.375h7M1027.25 705.375h1.75M1034.25 705.375h1.75M1051.75 705.375h8.75M1072.75 705.375h3.5M1081.5 705.375h1.75M1102.5 705.375h1.75M1111.25 705.375h5.25M1123.5 705.375h1.75M1127 705.375h1.75M1142.75 705.375h5.25M1149.75 705.375h1.75M1158.5 705.375h8.75M1202.25 705.375h1.75M1205.75 705.375h1.75M752.5 707.125h3.5M759.5 707.125h3.5M777 707.125h3.5M845.25 707.125h3.5M850.5 707.125h1.75M861 707.125h1.75M918.75 707.125h3.5M973 707.125h1.75M1013.25 707.125h5.25M1023.75 707.125h5.25M1043 707.125h1.75M1050 707.125h1.75M1055.25 707.125h5.25M1064 707.125h1.75M1072.75 707.125h3.5M1081.5 707.125h5.25M1102.5 707.125h3.5M1125.25 707.125h1.75M1142.75 707.125h10.5M1158.5 707.125h3.5M754.25 708.875h1.75M757.75 708.875h3.5M778.75 708.875h1.75M845.25 708.875h1.75M848.75 708.875h3.5M861 708.875h1.75M1006.25 708.875h1.75M1009.75 708.875h3.5M1025.5 708.875h3.5M1032.5 708.875h3.5M1046.5 708.875h3.5M1057 708.875h3.5M1065.75 708.875h12.25M1083.25 708.875h7M1092 708.875h1.75M1102.5 708.875h3.5M1148 708.875h1.75M1160.25 708.875h1.75M757.75 710.625h1.75M777 710.625h5.25M850.5 710.625h3.5M862.75 710.625h1.75M1006.25 710.625h3.5M1025.5 710.625h5.25M1034.25 710.625h1.75M1067.5 710.625h1.75M1071 710.625h22.75M1095.5 710.625h1.75M1102.5 710.625h3.5M759.5 712.375h1.75M773.5 712.375h1.75M777 712.375h5.25M843.5 712.375h1.75M854 712.375h3.5M861 712.375h1.75M1079.75 712.375h7M1090.25 712.375h1.75M1093.75 712.375h15.75M1118.25 712.375h1.75M1121.75 712.375h1.75M773.5 714.125h8.75M845.25 714.125h3.5M857.5 714.125h7M1079.75 714.125h7M1090.25 714.125h5.25M1104.25 714.125h7M1118.25 714.125h5.25M768.25 715.875h1.75M777 715.875h7M845.25 715.875h5.25M1081.5 715.875h5.25M1090.25 715.875h3.5M1120 715.875h1.75M766.5 717.625h5.25M777 717.625h8.75M847 717.625h1.75M1090.25 717.625h3.5M770 719.375h3.5M780.5 719.375h1.75M847 719.375h1.75M771.75 721.125h1.75M833 721.125h3.5M771.75 722.875h5.25M831.25 722.875h3.5M850.5 722.875h8.75M773.5 724.625h3.5M789.25 724.625h1.75M773.5 726.375h1.75M789.25 726.375h1.75M806.75 728.125h1.75M771.75 729.875h1.75M796.25 729.875h1.75M805 729.875h1.75M845.25 729.875h1.75M845.25 731.625h1.75M805 733.375h3.5M845.25 733.375h1.75M861 733.375h3.5M766.5 735.125h1.75M817.25 735.125h3.5M761.25 736.875h5.25M819 736.875h1.75M841.75 736.875h1.75M854 736.875h1.75M764.75 738.625h1.75M820.75 738.625h1.75M749 740.375h3.5M754.25 740.375h3.5M820.75 740.375h1.75M745.5 742.125h1.75M820.75 742.125h1.75M742 743.875h3.5M824.25 743.875h1.75M827.75 745.625h5.25M838.25 745.625h1.75" stroke="#58bce4"/><path d="M446.25 556.625h1.75M518 556.625h1.75M444.5 558.375h1.75M504 561.875h1.75M504 563.625h1.75M502.25 565.375h1.75M502.25 567.125h1.75M500.5 568.875h1.75M455 581.125h1.75M476 581.125h1.75M512.75 581.125h1.75M476 582.875h1.75M483 582.875h1.75M512.75 582.875h1.75M483 584.625h1.75M537.25 584.625h1.75M451.5 586.375h1.75M451.5 588.125h1.75M511 596.875h1.75M512.75 598.625h1.75M511 600.375h1.75M511 602.125h1.75M511 603.875h1.75M511 605.625h1.75M470.75 607.375h1.75M511 607.375h1.75M495.25 609.125h1.75M493.5 612.625h1.75M530.25 614.375h1.75M539 614.375h1.75M532 616.125h5.25M540.75 616.125h1.75M539 617.875h1.75M490 623.125h1.75M483 624.875h1.75M558.25 630.125h1.75M565.25 630.125h1.75M546 631.875h1.75M476 633.625h1.75M577.5 633.625h1.75M588 633.625h1.75M540.75 635.375h1.75M584.5 638.875h5.25M588 640.625h1.75M476 649.375h1.75M483 649.375h1.75M600.25 649.375h1.75M476 654.625h1.75M875 654.625h1.75M882 654.625h1.75M477.75 656.375h1.75M598.5 656.375h1.75M871.5 656.375h1.75M875 656.375h1.75M880.25 656.375h1.75M873.25 658.125h1.75M876.75 658.125h1.75M1240.75 659.875h1.75M1237.25 661.625h1.75M1240.75 661.625h1.75M596.75 663.375h1.75M873.25 663.375h1.75M1239 663.375h1.75M1232 665.125h3.5M1239 665.125h3.5M509.25 666.875h1.75M892.5 666.875h1.75M885.5 668.625h3.5M1016.75 668.625h1.75M1211 668.625h3.5M1230.25 668.625h1.75M887.25 670.375h3.5M985.25 670.375h3.5M999.25 670.375h1.75M1006.25 670.375h1.75M1013.25 670.375h5.25M1212.75 670.375h1.75M1230.25 670.375h1.75M953.75 672.125h3.5M985.25 672.125h3.5M999.25 672.125h1.75M1008 672.125h7M1211 672.125h3.5M1226.75 672.125h3.5M903 673.875h1.75M950.25 673.875h3.5M955.5 673.875h3.5M987 673.875h3.5M999.25 673.875h1.75M1008 673.875h8.75M1198.75 673.875h1.75M1205.75 673.875h8.75M1226.75 673.875h3.5M885.5 675.625h1.75M950.25 675.625h1.75M955.5 675.625h1.75M988.75 675.625h1.75M999.25 675.625h1.75M1009.75 675.625h3.5M1190 675.625h1.75M1197 675.625h5.25M1205.75 675.625h3.5M1228.5 675.625h1.75M880.25 677.375h3.5M887.25 677.375h1.75M911.75 677.375h1.75M955.5 677.375h1.75M988.75 677.375h1.75M1001 677.375h1.75M1015 677.375h1.75M1188.25 677.375h3.5M1198.75 677.375h1.75M1207.5 677.375h1.75M1226.75 677.375h1.75M595 679.125h1.75M876.75 679.125h1.75M880.25 679.125h1.75M918.75 679.125h1.75M955.5 679.125h1.75M988.75 679.125h1.75M1001 679.125h3.5M1191.75 679.125h1.75M1205.75 679.125h1.75M1226.75 679.125h1.75M873.25 680.875h5.25M880.25 680.875h1.75M920.5 680.875h1.75M950.25 680.875h1.75M953.75 680.875h1.75M988.75 680.875h1.75M999.25 680.875h5.25M1006.25 680.875h3.5M1191.75 680.875h1.75M1200.5 680.875h5.25M1226.75 680.875h1.75M593.25 682.625h1.75M868 682.625h3.5M873.25 682.625h7M920.5 682.625h7M948.5 682.625h3.5M955.5 682.625h3.5M967.75 682.625h1.75M971.25 682.625h5.25M999.25 682.625h7M1011.5 682.625h3.5M1186.5 682.625h1.75M1190 682.625h3.5M1195.25 682.625h3.5M1226.75 682.625h1.75M873.25 684.375h3.5M918.75 684.375h7M948.5 684.375h3.5M955.5 684.375h3.5M966 684.375h5.25M974.75 684.375h1.75M985.25 684.375h1.75M1002.75 684.375h3.5M1013.25 684.375h3.5M1190 684.375h8.75M1225 684.375h1.75M869.75 686.125h3.5M917 686.125h5.25M936.25 686.125h1.75M948.5 686.125h1.75M955.5 686.125h7M974.75 686.125h1.75M983.5 686.125h1.75M1015 686.125h1.75M1163.75 686.125h1.75M1186.5 686.125h12.25M572.25 687.875h1.75M915.25 687.875h3.5M934.5 687.875h1.75M938 687.875h1.75M960.75 687.875h1.75M964.25 687.875h1.75M973 687.875h3.5M983.5 687.875h1.75M1002.75 687.875h7M1015 687.875h3.5M1155 687.875h1.75M1160.25 687.875h5.25M1181.25 687.875h10.5M1195.25 687.875h3.5M572.25 689.625h1.75M869.75 689.625h1.75M913.5 689.625h7M934.5 689.625h1.75M960.75 689.625h3.5M966 689.625h1.75M971.25 689.625h12.25M1006.25 689.625h7M1016.75 689.625h3.5M1155 689.625h1.75M1158.5 689.625h7M1172.5 689.625h1.75M1181.25 689.625h5.25M1190 689.625h8.75M861 691.375h3.5M868 691.375h3.5M913.5 691.375h14M962.5 691.375h1.75M966 691.375h1.75M1006.25 691.375h3.5M1013.25 691.375h1.75M1018.5 691.375h3.5M1025.5 691.375h1.75M1120 691.375h1.75M1155 691.375h7M1163.75 691.375h3.5M1176 691.375h8.75M570.5 693.125h3.5M861 693.125h8.75M913.5 693.125h5.25M922.25 693.125h7M932.75 693.125h3.5M964.25 693.125h3.5M1006.25 693.125h1.75M1018.5 693.125h1.75M1125.25 693.125h3.5M1144.5 693.125h1.75M1153.25 693.125h1.75M1165.5 693.125h8.75M829.5 694.875h1.75M864.5 694.875h5.25M913.5 694.875h5.25M925.75 694.875h12.25M1008 694.875h1.75M1023.75 694.875h1.75M1060.5 694.875h1.75M1149.75 694.875h3.5M827.75 696.625h1.75M862.75 696.625h5.25M927.5 696.625h3.5M995.75 696.625h3.5M1023.75 696.625h1.75M1057 696.625h1.75M1062.25 696.625h1.75M1093.75 696.625h1.75M1100.75 696.625h1.75M1114.75 696.625h5.25M1127 696.625h1.75M1137.5 696.625h1.75M1144.5 696.625h7M768.25 698.375h3.5M864.5 698.375h3.5M927.5 698.375h1.75M995.75 698.375h1.75M1020.25 698.375h5.25M1055.25 698.375h1.75M1064 698.375h1.75M1093.75 698.375h3.5M1102.5 698.375h1.75M1106 698.375h1.75M1116.5 698.375h5.25M1127 698.375h1.75M1134 698.375h5.25M1142.75 698.375h5.25M1207.5 698.375h1.75M766.5 700.125h1.75M771.75 700.125h1.75M827.75 700.125h1.75M864.5 700.125h7M924 700.125h1.75M1009.75 700.125h1.75M1015 700.125h1.75M1020.25 700.125h7M1037.75 700.125h3.5M1053.5 700.125h1.75M1064 700.125h3.5M1071 700.125h1.75M1120 700.125h1.75M1127 700.125h1.75M1132.25 700.125h5.25M1144.5 700.125h1.75M1200.5 700.125h10.5M752.5 701.875h3.5M763 701.875h3.5M836.5 701.875h1.75M864.5 701.875h1.75M869.75 701.875h3.5M920.5 701.875h5.25M1008 701.875h14M1023.75 701.875h3.5M1039.5 701.875h3.5M1064 701.875h3.5M1069.25 701.875h1.75M1121.75 701.875h1.75M1127 701.875h1.75M1132.25 701.875h5.25M1144.5 701.875h1.75M1200.5 701.875h3.5M1207.5 701.875h1.75M761.25 703.625h1.75M862.75 703.625h1.75M920.5 703.625h5.25M1008 703.625h3.5M1013.25 703.625h3.5M1018.5 703.625h7M1043 703.625h1.75M1051.75 703.625h3.5M1065.75 703.625h5.25M1074.5 703.625h7M1099 703.625h1.75M1123.5 703.625h3.5M1144.5 703.625h1.75M1202.25 703.625h1.75M1207.5 703.625h1.75M756 705.375h5.25M845.25 705.375h1.75M922.25 705.375h1.75M1006.25 705.375h3.5M1011.5 705.375h5.25M1029 705.375h5.25M1036 705.375h1.75M1043 705.375h1.75M1050 705.375h1.75M1064 705.375h8.75M1076.25 705.375h5.25M1099 705.375h3.5M1125.25 705.375h1.75M1148 705.375h1.75M1204 705.375h1.75M756 707.125h3.5M780.5 707.125h1.75M843.5 707.125h1.75M1006.25 707.125h3.5M1011.5 707.125h1.75M1029 707.125h8.75M1044.75 707.125h5.25M1065.75 707.125h7M1076.25 707.125h5.25M1100.75 707.125h1.75M756 708.875h1.75M843.5 708.875h1.75M854 708.875h1.75M857.5 708.875h3.5M1008 708.875h1.75M1029 708.875h3.5M1078 708.875h5.25M1097.25 708.875h1.75M756 710.625h1.75M782.25 710.625h1.75M854 710.625h8.75M1097.25 710.625h1.75M1100.75 710.625h1.75M782.25 712.375h1.75M857.5 712.375h3.5M1092 712.375h1.75M759.5 714.125h1.75M782.25 714.125h3.5M841.75 714.125h3.5M784 715.875h1.75M841.75 715.875h3.5M838.25 717.625h8.75M833 719.375h1.75M836.5 719.375h10.5M768.25 721.125h3.5M836.5 721.125h3.5M848.75 721.125h1.75M770 722.875h1.75M829.5 722.875h1.75M836.5 722.875h3.5M848.75 722.875h1.75M771.75 724.625h1.75M801.5 724.625h1.75M808.5 724.625h3.5M833 724.625h1.75M836.5 724.625h3.5M848.75 724.625h3.5M854 724.625h5.25M771.75 726.375h1.75M803.25 726.375h1.75M808.5 726.375h3.5M847 726.375h3.5M854 726.375h1.75M771.75 728.125h1.75M792.75 728.125h3.5M801.5 728.125h1.75M810.25 728.125h1.75M845.25 728.125h3.5M855.75 728.125h1.75M798 729.875h3.5M806.75 729.875h1.75M806.75 731.625h1.75M857.5 733.375h1.75M763 735.125h1.75M759.5 736.875h1.75M749 738.625h3.5M754.25 738.625h1.75M724.5 742.125h3.5M731.5 742.125h1.75M822.5 742.125h3.5M831.25 742.125h1.75M838.25 742.125h1.75M740.25 743.875h1.75M831.25 743.875h1.75M836.5 743.875h3.5M833 745.625h1.75M836.5 745.625h1.75" stroke="#2ca4dc"/><path d="M455 554.875h1.75M444.5 556.625h1.75M446.25 558.375h1.75M467.25 567.125h1.75M462 568.875h1.75M470.75 568.875h1.75M526.75 572.375h1.75M509.25 582.875h1.75M509.25 584.625h1.75M453.25 588.125h1.75M509.25 600.375h1.75M486.5 605.625h1.75M502.25 605.625h1.75M509.25 607.375h1.75M479.5 610.875h1.75M533.75 610.875h1.75M533.75 612.625h3.5M477.75 614.375h1.75M532 614.375h5.25M537.25 616.125h1.75M572.25 628.375h3.5M477.75 630.125h1.75M488.25 630.125h1.75M574 630.125h1.75M470.75 631.875h1.75M484.75 633.625h1.75M539 635.375h1.75M582.75 635.375h1.75M588 635.375h1.75M584.5 637.125h1.75M588 637.125h1.75M479.5 638.875h1.75M481.25 642.375h1.75M481.25 644.125h1.75M500.5 644.125h1.75M481.25 647.625h1.75M484.75 647.625h1.75M600.25 647.625h1.75M600.25 651.125h1.75M880.25 654.625h1.75M871.5 659.875h1.75M486.5 665.125h1.75M878.5 668.625h1.75M950.25 668.625h1.75M953.75 668.625h3.5M950.25 670.375h1.75M953.75 670.375h3.5M1008 670.375h1.75M1225 670.375h5.25M514.5 672.125h1.75M950.25 672.125h3.5M1004.5 672.125h3.5M1207.5 672.125h1.75M1216.25 672.125h1.75M997.5 673.875h1.75M1006.25 673.875h1.75M1200.5 673.875h3.5M957.25 675.625h3.5M987 675.625h1.75M1001 675.625h8.75M1202.25 675.625h1.75M526.75 677.375h1.75M957.25 677.375h1.75M987 677.375h1.75M1002.75 677.375h12.25M1200.5 677.375h7M878.5 679.125h1.75M920.5 679.125h1.75M1004.5 679.125h10.5M1198.75 679.125h7M1228.5 679.125h1.75M593.25 680.875h1.75M878.5 680.875h1.75M955.5 680.875h1.75M969.5 680.875h1.75M974.75 680.875h1.75M987 680.875h1.75M1004.5 680.875h1.75M1009.75 680.875h3.5M1015 680.875h1.75M1188.25 680.875h3.5M927.5 682.625h1.75M976.5 682.625h3.5M1015 682.625h1.75M591.5 684.375h1.75M869.75 684.375h1.75M925.75 684.375h3.5M959 684.375h1.75M976.5 684.375h7M1179.5 684.375h1.75M1188.25 684.375h1.75M586.25 686.125h1.75M589.75 686.125h1.75M922.25 686.125h10.5M976.5 686.125h7M1016.75 686.125h1.75M1162 686.125h1.75M1177.75 686.125h7M588 687.875h1.75M871.5 687.875h1.75M918.75 687.875h14M943.25 687.875h1.75M962.5 687.875h1.75M976.5 687.875h7M1165.5 687.875h1.75M1177.75 687.875h3.5M1191.75 687.875h3.5M861 689.625h1.75M920.5 689.625h14M946.75 689.625h1.75M964.25 689.625h1.75M1165.5 689.625h1.75M1169 689.625h1.75M1176 689.625h5.25M927.5 691.375h7M964.25 691.375h1.75M1009.75 691.375h3.5M1118.25 691.375h1.75M1148 691.375h3.5M1167.25 691.375h7M929.25 693.125h3.5M1008 693.125h7M1118.25 693.125h7M1148 693.125h5.25M822.5 694.875h1.75M826 694.875h3.5M1009.75 694.875h1.75M1051.75 694.875h1.75M1090.25 694.875h1.75M1100.75 694.875h1.75M1116.5 694.875h10.5M1135.75 694.875h1.75M1144.5 694.875h5.25M771.75 696.625h1.75M826 696.625h1.75M1048.25 696.625h7M1058.75 696.625h1.75M1064 696.625h1.75M1079.75 696.625h1.75M1099 696.625h1.75M1102.5 696.625h1.75M1109.5 696.625h3.5M1120 696.625h7M771.75 698.375h1.75M862.75 698.375h1.75M1039.5 698.375h3.5M1046.5 698.375h8.75M1097.25 698.375h1.75M1104.25 698.375h1.75M1121.75 698.375h5.25M756 700.125h1.75M773.5 700.125h1.75M862.75 700.125h1.75M1016.75 700.125h1.75M1041.25 700.125h12.25M1076.25 700.125h1.75M1121.75 700.125h5.25M756 701.875h1.75M759.5 701.875h3.5M777 701.875h1.75M827.75 701.875h1.75M833 701.875h1.75M1022 701.875h1.75M1043 701.875h12.25M1067.5 701.875h1.75M1123.5 701.875h3.5M1204 701.875h3.5M756 703.625h5.25M861 703.625h1.75M1011.5 703.625h1.75M1044.75 703.625h7M1204 703.625h3.5M861 705.375h1.75M1009.75 705.375h1.75M1044.75 705.375h5.25M1009.75 707.125h1.75M1095.5 708.875h1.75M1100.75 708.875h1.75M1099 710.625h1.75M784 712.375h1.75M763 714.125h1.75M838.25 714.125h1.75M785.75 715.875h3.5M840 715.875h1.75M761.25 717.625h1.75M836.5 717.625h1.75M785.75 719.375h1.75M840 721.125h8.75M845.25 722.875h3.5M770 724.625h1.75M792.75 724.625h1.75M812 724.625h1.75M829.5 724.625h1.75M845.25 724.625h3.5M766.5 726.375h3.5M792.75 726.375h1.75M845.25 726.375h1.75M799.75 728.125h1.75M770 731.625h1.75M808.5 733.375h1.75M761.25 735.125h1.75M813.75 735.125h1.75M750.75 736.875h1.75M756 738.625h1.75M854 740.375h1.75M827.75 742.125h1.75M733.25 743.875h1.75M833 743.875h1.75" stroke="#0090d4"/><path d="M446.25 554.875h1.75M458.5 556.625h1.75M505.75 558.375h1.75M511 558.375h1.75M516.25 558.375h1.75M512.75 563.625h1.75M476 579.375h1.75M467.25 581.125h1.75M530.25 582.875h1.75M481.25 586.375h1.75M476 588.125h1.75M516.25 600.375h1.75M519.75 603.875h1.75M476 609.125h1.75M526.75 609.125h1.75M532 612.625h1.75M479.5 623.125h1.75M483 623.125h1.75M490 628.375h1.75M554.75 630.125h1.75M561.75 630.125h1.75M567 631.875h1.75M498.75 644.125h1.75M588 645.875h1.75M602 647.625h1.75M603.75 652.875h1.75M1232 663.375h1.75M883.75 668.625h1.75M894.25 668.625h1.75M1214.5 670.375h1.75M1223.25 670.375h1.75M1195.25 672.125h1.75M1191.75 673.875h1.75M876.75 675.625h1.75M915.25 675.625h1.75M922.25 679.125h1.75M971.25 680.875h3.5M542.5 682.625h1.75M1177.75 684.375h1.75M932.75 687.875h1.75M941.5 689.625h1.75M1156.75 689.625h1.75M866.25 691.375h1.75M1023.75 691.375h1.75M1153.25 691.375h1.75M1057 694.875h1.75M1044.75 696.625h1.75M1142.75 696.625h1.75M766.5 698.375h1.75M1076.25 698.375h1.75M750.75 700.125h1.75M764.75 700.125h1.75M1079.75 701.875h1.75M1093.75 703.625h1.75M843.5 710.625h1.75M1093.75 710.625h1.75M768.25 719.375h1.75M789.25 722.875h1.75M803.25 724.625h1.75M857.5 726.375h1.75M808.5 728.125h1.75M770 729.875h1.75M862.75 729.875h1.75M862.75 731.625h1.75M859.25 733.375h1.75M829.5 743.875h1.75" stroke="#a4c4e8"/><path d="M456.75 556.625h1.75M463.75 561.875h1.75M528.5 563.625h1.75M526.75 568.875h1.75M498.75 570.625h1.75M456.75 579.375h1.75M470.75 579.375h1.75M537.25 579.375h1.75M526.75 581.125h1.75M507.5 582.875h1.75M537.25 582.875h1.75M451.5 584.625h1.75M455 584.625h1.75M479.5 591.625h1.75M484.75 593.375h1.75M484.75 595.125h1.75M514.5 598.625h1.75M518 602.125h1.75M521.5 607.375h5.25M484.75 609.125h1.75M493.5 609.125h1.75M528.5 612.625h1.75M542.5 619.625h1.75M481.25 624.875h1.75M490 624.875h1.75M546 626.625h3.5M553 628.375h1.75M479.5 630.125h1.75M549.5 630.125h1.75M575.75 631.875h1.75M481.25 633.625h1.75M586.25 637.125h1.75M495.25 640.625h1.75M493.5 642.375h1.75M588 642.375h1.75M483 645.875h1.75M497 645.875h1.75M603.75 647.625h1.75M479.5 649.375h1.75M476 651.125h1.75M596.75 652.875h1.75M876.75 656.375h1.75M479.5 658.125h1.75M871.5 658.125h1.75M1242.5 658.125h1.75M595 659.875h1.75M479.5 661.625h1.75M1235.5 661.625h1.75M1239 661.625h1.75M595 663.375h1.75M490 665.125h1.75M873.25 665.125h1.75M595 666.875h1.75M882 666.875h1.75M880.25 668.625h1.75M987 668.625h3.5M1015 668.625h1.75M1228.5 668.625h1.75M512.75 670.375h1.75M889 672.125h1.75M948.5 672.125h1.75M957.25 672.125h3.5M1015 672.125h1.75M1218 672.125h1.75M1221.5 672.125h1.75M596.75 673.875h1.75M985.25 673.875h1.75M1004.5 673.875h1.75M1204 673.875h1.75M525 675.625h1.75M595 675.625h1.75M887.25 675.625h1.75M1013.25 675.625h1.75M875 677.375h1.75M883.75 677.375h3.5M915.25 677.375h1.75M950.25 679.125h1.75M974.75 679.125h1.75M539 680.875h1.75M922.25 680.875h1.75M959 680.875h1.75M1013.25 680.875h1.75M871.5 684.375h1.75M934.5 684.375h3.5M1016.75 684.375h1.75M551.25 686.125h1.75M934.5 686.125h1.75M586.25 687.875h1.75M556.5 689.625h1.75M945 689.625h1.75M1170.75 689.625h1.75M864.5 691.375h1.75M1174.25 691.375h1.75M826 693.125h1.75M1015 693.125h1.75M1032.5 693.125h1.75M1060.5 693.125h1.75M1146.25 693.125h1.75M861 694.875h1.75M1011.5 694.875h1.75M1016.75 694.875h1.75M1050 694.875h1.75M1055.25 696.625h1.75M1092 696.625h1.75M1113 696.625h1.75M773.5 698.375h1.75M826 698.375h1.75M861 698.375h1.75M1015 698.375h1.75M1044.75 698.375h1.75M1072.75 698.375h1.75M1107.75 698.375h1.75M1011.5 700.125h1.75M1018.5 700.125h1.75M1036 700.125h1.75M775.25 701.875h1.75M778.75 701.875h1.75M1081.5 701.875h1.75M750.75 703.625h1.75M1071 703.625h1.75M780.5 705.375h1.75M843.5 705.375h1.75M841.75 707.125h1.75M848.75 707.125h1.75M857.5 707.125h3.5M780.5 708.875h1.75M838.25 712.375h1.75M836.5 715.875h3.5M785.75 717.625h1.75M834.75 719.375h1.75M764.75 721.125h1.75M768.25 722.875h1.75M834.75 722.875h1.75M841.75 722.875h1.75M770 726.375h1.75M791 726.375h1.75M838.25 726.375h1.75M850.5 726.375h1.75M855.75 726.375h1.75M813.75 733.375h1.75M820.75 736.875h1.75M840 736.875h1.75M757.75 738.625h1.75M822.5 740.375h1.75M826 742.125h1.75M834.75 745.625h1.75" stroke="#7c94ec"/><path d="M455 556.625h1.75M526.75 558.375h1.75M516.25 560.125h1.75M511 561.875h1.75M526.75 563.625h1.75M526.75 565.375h1.75M462 570.625h1.75M455 574.125h1.75M498.75 574.125h1.75M523.25 579.375h1.75M518 581.125h1.75M521.5 581.125h1.75M532 581.125h1.75M537.25 581.125h1.75M455 582.875h1.75M505.75 582.875h1.75M477.75 589.875h1.75M476 598.625h1.75M479.5 598.625h1.75M511 598.625h1.75M486.5 600.375h1.75M509.25 602.125h1.75M479.5 617.875h1.75M479.5 621.375h1.75M546 624.875h1.75M556.5 630.125h1.75M472.5 631.875h3.5M479.5 631.875h1.75M486.5 631.875h1.75M544.25 633.625h1.75M581 635.375h1.75M495.25 644.125h1.75M603.75 649.375h1.75M600.25 652.875h1.75M873.25 656.375h1.75M878.5 656.375h1.75M889 656.375h1.75M1244.25 659.875h1.75M871.5 661.625h1.75M484.75 663.375h1.75M488.25 665.125h1.75M892.5 665.125h1.75M1230.25 666.875h1.75M878.5 670.375h1.75M1211 670.375h1.75M1219.75 670.375h1.75M897.75 672.125h1.75M901.25 672.125h1.75M1002.75 672.125h1.75M1200.5 672.125h1.75M1209.25 672.125h1.75M889 673.875h1.75M983.5 673.875h1.75M1001 673.875h1.75M1190 673.875h1.75M1197 673.875h1.75M1204 675.625h1.75M876.75 677.375h1.75M908.25 677.375h1.75M950.25 677.375h1.75M533.75 679.125h1.75M987 679.125h1.75M1190 679.125h1.75M924 680.875h3.5M581 682.625h1.75M959 682.625h1.75M980 682.625h1.75M1016.75 682.625h1.75M1188.25 682.625h1.75M547.75 684.375h1.75M582.75 684.375h3.5M929.25 684.375h1.75M1186.5 684.375h1.75M553 686.125h1.75M591.5 686.125h1.75M1018.5 686.125h1.75M554.75 687.875h1.75M939.75 687.875h1.75M1167.25 689.625h1.75M572.25 691.375h1.75M1029 691.375h1.75M1128.75 691.375h1.75M1144.5 691.375h1.75M1151.5 691.375h1.75M568.75 693.125h1.75M574 694.875h1.75M1032.5 694.875h1.75M1083.25 694.875h1.75M1102.5 694.875h1.75M824.25 696.625h1.75M861 696.625h1.75M1065.75 696.625h1.75M1078 696.625h1.75M1104.25 696.625h1.75M1141 696.625h1.75M836.5 698.375h1.75M1037.75 698.375h1.75M754.25 700.125h1.75M763 700.125h1.75M1013.25 700.125h1.75M1074.5 700.125h1.75M1078 700.125h1.75M757.75 701.875h1.75M862.75 701.875h1.75M777 703.625h1.75M1072.75 703.625h1.75M749 707.125h1.75M1099 707.125h1.75M852.25 708.875h1.75M761.25 715.875h1.75M831.25 721.125h1.75M768.25 724.625h1.75M806.75 726.375h1.75M768.25 731.625h1.75M808.5 731.625h1.75M840 735.125h1.75M855.75 735.125h1.75M752.5 738.625h1.75M852.25 738.625h1.75M747.25 740.375h1.75M826 743.875h3.5" stroke="#5464f0"/><path d="M460.25 558.375h1.75M455 575.875h1.75M469 577.625h1.75M521.5 579.375h1.75M453.25 582.875h1.75M511 582.875h1.75M526.75 582.875h1.75M472.5 584.625h1.75M479.5 595.125h1.75M519.75 605.625h1.75M497 607.375h1.75M504 607.375h1.75M477.75 609.125h1.75M505.75 609.125h1.75M486.5 610.875h1.75M528.5 610.875h1.75M491.75 614.375h1.75M540.75 617.875h1.75M481.25 619.625h1.75M560 630.125h1.75M563.5 630.125h1.75M483 633.625h1.75M542.5 633.625h1.75M481.25 640.625h1.75M885.5 651.125h1.75M476 652.875h1.75M595 654.625h1.75M871.5 654.625h1.75M1249.5 659.875h1.75M595 661.625h1.75M869.75 661.625h1.75M892.5 661.625h3.5M894.25 665.125h1.75M952 670.375h1.75M1207.5 670.375h1.75M516.25 672.125h1.75M948.5 673.875h1.75M1195.25 673.875h1.75M985.25 675.625h1.75M595 677.375h1.75M913.5 677.375h1.75M985.25 677.375h1.75M969.5 682.625h1.75M987 682.625h1.75M546 684.375h1.75M549.5 684.375h1.75M579.25 684.375h1.75M544.25 686.125h1.75M964.25 686.125h1.75M1184.75 686.125h1.75M1020.25 689.625h1.75M1116.5 693.125h1.75M824.25 694.875h1.75M859.25 696.625h1.75M1008 696.625h1.75M1022 696.625h1.75M1046.5 696.625h1.75M1139.25 696.625h1.75M756 698.375h1.75M1043 698.375h1.75M1081.5 698.375h1.75M780.5 703.625h1.75M833 703.625h1.75M1097.25 703.625h1.75M750.75 707.125h1.75M1088.5 707.125h1.75M1090.25 708.875h1.75M1099 708.875h1.75M789.25 715.875h1.75M766.5 721.125h1.75M840 722.875h1.75M840 724.625h1.75M852.25 724.625h1.75M796.25 728.125h1.75M848.75 728.125h1.75M847 729.875h1.75M768.25 733.375h1.75M764.75 735.125h1.75M857.5 735.125h1.75M843.5 736.875h1.75M857.5 736.875h1.75M724.5 740.375h1.75M722.75 742.125h1.75M728 742.125h1.75M833 742.125h1.75M735 743.875h3.5" stroke="#2c30f4"/></g><path d="M1181.5,877.5h3.5v1.75h-3.5zM1183,879.2h1.75v1.75h-1.75zM1196.5,880.5h3.5v1.75h-3.5zM1198.5,878.8h1.75v1.75h-1.75zM1204,880.5h5v1.75h-5zM1205.5,878.8h7.5v1.75h-7.5zM1207,877h9.5v1.75h-9.5zM1210,875.3h7v1.75h-7zM1214,873.5h3.5v1.75h-3.5zM1218.5,876.5h3.5v1.75h-3.5zM1221,875h3.5v1.75h-3.5zM1225.5,872.5h2.2v1.9h-2.2zM1226.81,871.062h3.2v1.9h-3.2zM1228.12,869.625h2.2v1.9h-2.2zM1229.44,868.188h3.2v1.9h-3.2zM1230.75,866.75h2.2v1.9h-2.2zM1232.06,865.312h3.2v1.9h-3.2zM1233.38,863.875h2.2v1.9h-2.2zM1234.69,862.438h3.2v1.9h-3.2zM1236,861h2.2v1.9h-2.2zM1237.2,858h1.75v3.5h-1.75zM1238.4,855.5h1.75v2h-1.75z" fill="#e0b4ac" shape-rendering="crispEdges"/><path d="M1194.5,822h2.2v2h-2.2zM1195.3,824h2.4v2h-2.4zM1196,826h2.4v2h-2.4zM1197,828h2.2v2h-2.2zM1198,830h2v2h-2zM1198.6,832h1.75v1.75h-1.75z" fill="#c88474" shape-rendering="crispEdges"/>
<path d="M341.6,235.4 923.6,235.4M339,257.4 334,257.2 318,256.4 310,254 302,251 300.4,253 300.4,260 304,266 308,269 310,276 313,282 315,288 321,289 316,292 320,296 316,300 315,306 317.6,308.4 318,320 318.6,328 317,340 315.6,356 314,372 310,384 305,398M317.6,308.4 322,306.4 327,307.4 332,308.4 337,311 340,316 341,322 343,324.4 351,327 360,323 370,322.4 376,325 384,322.4 390,323 400,319.4 410,317 420,314 430,313.6 446,313.4 465,314.4M462.6,235.4 462.6,306 464.4,310 465.6,314.4 466,316 472,319.4 475,324 473,329 470,336 466,342 464,346 460,349 457.6,357 460,361 465.6,362.4 464,369 463,374 463,398 463,419.6M483,235.4 483,262 487,267 490,271 489,277 496,281 502,286 507,292 510,296 516,297.6 519.6,297 518,304 516,311 517,316 514.4,322 515,327 519.6,329 524,325 527,322 531,325 533,332 537,338 539,345 544,347 547,355 550,358 554,354 562,353 570,352 578,352 580,347 583,349 588.4,355M588.6,341 736,341M588.6,341 588.6,446.3M736,235.4 736,446.3M311,419.6 588.5,419.6M400,419.6 400,499.6 513,603M526,419.6 526,575M588.5,446.3 778.4,446.3M631,446.3 631,701M526,551.6 935,551.6M778.4,446.3 778.4,551.6M778.4,472.6 920,472.6M736,316.1 892.5,316.4M736,394.4 853,394.4M757.6,551.6 757.6,564.6 821,564.6 821,615M757.3,564.6 757,684 681,684M923.6,235.4 923.6,226.4 931,226.4 933,236 934,242 944,244.4 952,245.6 953,248 963,245 972,245.6 978,249 982,255.6 986,252.4 994,255 999,259 1005,259 1013,255.6 1018,258 1030,258.4 1043,261.6 1032,266.4 1022,269.6 1013,274 1004,281 994,288 984,295 983.6,297.6M983.6,297.6 984.4,312 976,316 970,323 976,329 973,338 973,347 979,353 990,358 996,365 1005,370.4 1006,380 1010,386 1009,392 1010,398M983.6,297.6 994,295 1006,292 1015,290 1016,296 1013,299 1019,297 1025,298.4M1025,298.4 1028,305 1038,308 1050,312 1062,315 1070,317 1076,322 1078,329 1081,336 1084,338.4M1025,298.4 1032,295 1040,292 1050,289 1058,284 1066,278 1074,275.6 1081,277 1074,281 1068,284 1064,289 1065,295 1070,290 1080,291 1086,298 1090,302 1096,301 1102,303 1110,299 1120,297 1130,296M1084,338.4 1087,332 1091,324 1095,318 1100,317.6 1102,323 1105,318 1118,314 1130,311.6M1084,338.4 1080,344 1074,353 1078,352 1086,344 1092,338 1096,334 1091,336 1088,342 1084,356 1081,368 1078,380 1077,390 1077.6,398M1130,337 1124,340 1127,345 1122,342 1116,344 1112,352 1108,362 1106,368 1108,376 1107,384 1110,392 1111,398M879.6,235.4 882.4,244 881,258 885,268 888,274 888.6,288 890,298 893,307 894,314 893,318 887.6,324 891,329 897,332 897.4,380M893,380.6 1006,379.6M897.4,380 893,380.6 895,390 894,398M853,394.4 858,397 866,397.6M1130,296 1138,294.4 1139,298 1136,300 1142,302.4 1153,302 1155,309 1161,314.4 1154,316 1144,314.4 1142,318 1136,314 1130,312M1142,319.4 1148,323 1155,325 1157,328 1169,331 1172,335 1174.4,340 1170,340 1172,346 1174.4,350 1173,358 1168,361 1166,366 1161,368 1159,373 1164,378.4 1169,375 1173,368 1180,365 1186,368 1189,375 1190,386 1192,394 1190,398M1142,319.4 1137,324 1136,329 1139,330 1134,332 1130,335.6M1267,398 1265,395 1262,391 1263,385.6 1270,384 1282,383.4 1290,384.4 1294,387.6 1300,385.6 1306,386 1312,384 1317,380 1322,379.6 1323,374 1321,370 1324,368 1319,364 1326,361 1331,357 1332,353 1340,346 1345,342.4 1351,340.2 1422,340.2M1382.4,340.6 1383.6,348 1384,358 1381,364 1382,372 1381,378 1384.4,380 1384,398M1422,340.2 1423,335 1428,332.4 1430,333M1422.4,340.2 1421,346 1419,350 1420,354 1416,358 1411,359 1410,366 1407,373 1403,380 1402,388 1400.4,398M1430,333 1434,386 1437,391M1430,333 1439,329.6 1441,324 1446,320 1448,314 1447,308 1452,302 1454,296 1462,286 1470,276 1474,277 1474,282 1478,282 1489,278.4 1494,280 1501,286 1501.6,300 1501,320 1500,323 1507,325 1508,334 1514,336 1516,342 1517,346 1513,350 1506,351 1500,354 1494,358 1490,354 1484,358 1482,360 1479,353 1475,357 1473,364 1468,369 1462,370 1456,375 1450,372 1446,380 1442,386 1439,390 1437,397 1430,398M304,396 309,404 307,412 311,419.6 315,428 315.6,436 312,444 313,448 308,458 307,464 314,470 320,478 321,488 323,496 321,501 328,508 335,515 339,520 337,525 344,528 347,525 349,520 356,523 352,528 354,534 360,539 356,540 349,536 348,542 352,550 360,553 363,558 359,564 362,571 367,576M853,394.4 857,399 864,400.4 870,398 882,399 890,402 894,407 898,412 899,418 903,424 904,430 908,436 909,444 909,453 911,456.6 914,462 918,468 922,473 928,475 930,478 926,481 924.4,485 929,489 931,493 935,495M935,495 935,564.6 935.6,576M911,456.6 997,456 1001,461 1002,462.4M935,564.6 1028,564.6 1031,568 1028,573 1025,576M1010,396 1012,401 1018,403 1021,408 1024,413 1029,417 1029.6,423 1026,428 1024,432 1016,434.4 1010,435.6 1009,440 1012,445 1012,449 1009,455 1003,457 1001,462 1000,468 1001,476 1006,483 1012,489 1017,494 1018,501 1021,503 1026,500 1030,503 1028,510 1024,516 1024,520 1030,526 1038,531 1042,536 1043,542 1046,548 1050,552 1051,558 1048,561 1043,563 1041,568 1040,576M1019,407 1078,407M1077.6,396 1077.6,407 1078,414 1082,420 1084,426 1088,429 1094,428 1102,424 1107,417 1111,410 1113,404 1112,396M1084.4,427 1084.4,490 1082,496 1085,501 1085.6,506 1082,512 1078,518 1074,521 1075,526 1072,530 1072.4,535M1102.4,425 1142,425.6M1050,552 1048,548 1054,546 1062,550 1065,546 1064,541 1072,539 1071,535 1073,531 1080,529 1085,531 1089,529 1094,531 1100,528 1103,530 1107,524 1110,521 1114,525 1119,523 1121,517 1127,514 1128,508 1130,506M1043,563 1048,564 1074,564 1074.4,560.6 1130,561.2M1141.4,425.6 1141,496 1142,502M1141.4,428 1170,427M1190,396 1188,404 1183,406 1180,412 1177,416 1175,421 1170,426.6M1170,427 1173,430 1180,432 1182,435 1190,436 1198,433.6 1206,433 1214,426 1224,423 1232,420 1242,415 1250,411 1258,406 1266,401 1268,396M1248,412 1248,419.6 1341,419 1345,423 1348,428 1348,433 1353,436 1350,441 1346,446 1345,451 1343.6,456 1347,460 1351,464 1355,469 1350,472 1345,476 1338,477 1334,479 1332,480M1232,420.4 1232,479.6 1332.4,479.6M1353.1,435 1371.3,446.6 1369.3,450.6M1232,456 1229,458 1228,466 1226,472 1224,478 1218,483 1212,488 1207,492 1205,498 1199,500 1197,506 1195,513 1190,514.4M1190,514.4 1183,507 1178,507 1173,509 1166,508 1160,506 1155,503 1150,497 1145,496 1142,497 1141,502 1136,506 1130,507.6 1124,506M1190,515 1188,520 1191,526 1195,532 1199,537 1201,541M1201,541 1207,547 1216,545 1224,541 1234,541 1239,536 1236,531 1240,526 1246,520 1248,514 1250,510 1257,514 1260,507 1266,503 1272,499 1277,494 1276,488 1280,486 1288,495 1290,491 1288,484M1288,484 1282,483 1276,485 1270,483 1266,485 1260,489 1254,493.6 1253,493.6 1253,479.6M1166,563 1206,562.4 1207,563.6 1330,563.6M1201,541 1194,546 1186,549 1180,556 1174,560 1166,563M1124,561 1130,561.2 1166,562.4M367,576 372,583 378,589 383,593 384,599 388,602 387,614 391,618 400,618.4 409,619 415,623 418,627.6 426,629 432,631 435,637 440,636 448,642 454,649 458,656 460,664 461,669.4M461,669.4 510,665.4M526,575 520,576 511,577 512,588 513,603 516,610 520,619 523,624 518,629 516,636 513,642 511,649 510,655 515,657 517,660 515,664 510,666 509.6,671M509.6,671 587,701 631,701 648,701 648,689.6 682,689.6 681,684M682,689.6 685,690.4 688,696 694,700 698,706 704,712 710,715M821,615 825,618 830,620 835,619 838,624 846,626 852,628 858,627 864,631 868,634 874,633 880,637 886,633 892,635 898,638 904,635 910,634 916,632 922,631 927,634 932,637 938,640 943,642 947,642M935.6,574 938,592 938,616 937.6,638.4M947,642 947,684 949,690 953,696 957,704 957,714 955,720 953,728 953,734 951,739 951.4,741.6M947,657 1007,657M1025,574 1040,577 1036,584 1031,589 1028,596 1031,602 1026,606 1022,611 1021,618 1016,622 1014,628 1010,632 1008,638 1006,644 1008,650 1007,657 1010,664 1009,670 1011,676 1010,682 1006,688 1002,696 999,703 998,709 1038,709 1038,714 1037,720 1039,726 1041,731M1030,604 1130,605M1073,605 1066,696 1067,726M1124,605 1130,628M1140,719 1135,709 1082,709 1082.4,716 1083.6,721 1085.6,723.6M1130,605.6 1178,604M1178,604 1190,599.6 1206,599.6 1222,600.4 1227,606 1226,609 1250,609 1273,633M1151,604.6 1152,598 1158,596 1162,591 1170,589 1178,583 1186,578 1190,576 1198,573 1207,565M1178,604.6 1172,612 1176,616 1183,619 1186,626 1192,634 1199,641 1203,646 1207,653 1212,658 1214,665 1215,672 1218,678 1220,682 1224,684.6M1273,633 1266,638 1261,646 1258,651 1254,655 1248,660 1240,666 1232,673 1226,676 1228,680 1224,685M1224,685 1220,692 1216,700 1212,708 1211,716 1213,720M1213,720 1210,719 1201,716 1199,720 1200,727 1196,726 1197,723 1140,719M1130,628 1134,652 1138,672 1140,678 1135,680 1134,688 1135,700 1137,712 1140,719M710,715 714,718 720,724 722,734 726,744 734,752 742,757 750,762 755,763 760,757 762,750 766,743 773,741 780,742 789,743 794,747 800,753 805,759 809,768 814,778 820,788 826,797 831,804 832,812 837,820 840,830 848,834 856,839 864,841 870,842 876,845 882,842M1052.4,727.6 1060,726 1070.4,726.4 1073.2,715.6 1074.8,715.6 1077.6,727.2 1080,726.4 1084,723.6 1092,723 1104,724 1114,726 1120,729 1126,734 1130,740 1128,745 1136,744 1144,741 1150,739 1154,734 1160,734 1166,740 1170,747 1176,754 1182,760 1185,766 1187,774 1186,782 1183,788 1184,794 1190,792 1192,796 1187,799 1188,806 1191,812 1194,818 1200,818 1200,823 1202,830 1205,836 1208,844 1213,850 1217,857 1219,863 1226,862 1232,861 1238,854 1241,846 1242,834 1243,824 1241,814 1237,804 1233,792 1230,780 1227,768 1223,756 1219,744 1216,732 1214,722 1213,714M1384.9,379 1384.4,399.2 1379.9,417.3 1378.9,428.4 1378.4,436.5 1378.9,440.6 1373.3,444.6M1403.1,379 1402.6,388.1 1400.1,395.1 1399.9,400.2M1384.4,399.5 1425.8,401.7 1430.8,397.2 1435.9,395.1M1432.9,379 1432.9,384 1435.9,388.1 1436.7,394.1M1450,379 1445,382 1440.9,385 1438.4,390.1 1436.4,395.1M1436.4,395.1 1436.9,400.2 1439.4,404.2 1434.9,407.3 1431.3,410.3 1431.8,413.8 1435.9,413.8 1439.4,416.3 1440.9,420.4 1442.9,424.4 1441.9,427.9 1447,427.4 1453,426.4 1455.1,430.5 1456.1,425.4 1454,420.4 1451,417.8 1448,418.4 1451,420.4 1452.8,423.6M1379.9,418.9 1425.8,418.9 1426.8,427.4 1423.8,429.5 1421.8,434.5 1418.7,437.5M1415.7,419.2 1415.7,438.5M1426.8,427.4 1428.8,425.9 1430.8,428.4 1436.9,427.4 1441.9,427.9M1423.8,430.5 1425.8,428.4 1427.8,430.5 1426.8,433.5 1428.8,432.5M1378.9,440.6 1382.4,440.6 1390.5,438 1403.6,437.5 1414.7,438 1420.7,436.5 1425.8,434.5 1430.8,432.5 1436.9,428.4M1435.4,437.5 1439.9,436 1444.5,436 1442.9,438 1436.9,438.5 1435.4,437.5M1448.5,438.5 1452,436.5 1455.1,438.5 1452,440.1 1448.5,438.5M1373.3,444.6 1382.4,445.6 1390.5,444.6 1396.5,444.6 1402.6,441.6 1406.6,443.1 1400.6,446.6 1396.5,448.8 1404.6,447.1 1414.7,444.6 1410.6,446.6 1402.6,450.6 1394.5,454.7 1387.4,456.7 1380.4,457.7 1373.3,458.7 1366.2,459.9 1362.2,459.7 1365.2,456.7 1369.3,450.6 1373.3,444.6M1374.3,455.2 1385.4,452.7 1396.5,449.6M1366.2,460.2 1369.3,460.7 1370.3,464.8 1368.3,470.8M1331.8,479.9 1334.3,476.8 1338,476.2 1338,476.2 1342.9,475.5 1349.1,472.5 1354,469.4M1332.4,479.9 1333.6,512.9 1344.1,513.4M1338,476.4 1339.8,486 1342.9,491 1347.2,494.7 1350.3,500.2 1354,496.5 1360.1,489.7 1366.3,482.3 1369.4,474.9 1370.3,469.4M1334.9,479.2 1335.5,486 1338,492.2 1341.7,498.4 1345.4,503.3 1347.6,509.5 1347.2,515.6 1344.1,521.8 1341.7,528 1338,534.1 1334.3,539.1 1330.6,544 1328.1,548.3 1326.2,546.4 1328.1,540.3 1331.8,534.1 1335.5,529.2 1339.2,524.3M1329.9,481.7 1325.6,485.4 1321.9,488.5 1317,491 1313.9,492.8 1315.1,498.4 1314.5,505.8 1312.7,513.2 1315.8,516.9 1318.2,521.8 1320.7,528 1321.9,534.1 1321.3,541.5 1320.7,546.4 1322.5,551.4 1326.9,555.1 1329.3,560 1331.8,567.4 1334.3,574.8 1336.7,581M1329.9,482.1 1326.2,486 1323.2,489.7 1321.3,495.9 1319.5,502.1 1320.1,507 1320.7,511.9 1323.2,514.4 1326.2,509.5 1325,502.1 1325.6,494.7 1326.9,488.5M1323.2,514.4 1328.1,516.2 1330.6,519.3 1329.3,524.3 1331.8,523 1334.3,524.3 1345.4,517.5M1329.3,524.3 1328.7,531.7 1326.9,536.6 1325.6,542.7 1326.2,547.7 1328.3,548.9M1291.1,489.7 1296,492.8 1298.5,496.5 1304,499 1307.7,500.8 1306.5,505.8 1302.8,507.6 1299.1,511.3 1298.5,515 1301.6,517.5 1304.7,513.8 1309,516.2 1313.3,519.3 1317,523 1320.7,526.7M1306.5,524.9 1310.8,529.2 1315.8,534.1 1321.3,539.1M1309.6,537.8 1313.3,542.7 1318.2,547.7M1305.9,545.2 1310.8,548.9 1315.8,553.8 1321.3,555.1M1329,554.5 1331,563.6 1333.8,572.1 1336.7,578.8 1338.1,583.1 1335.7,584.5 1333.8,588.3 1331,591.2 1327.1,594 1324.3,596 1321.4,595 1319.5,593.1 1317.6,589.3 1312.9,590.2 1308.1,593.1 1304.3,591.2M1326.2,564.5 1323.3,570.2 1319.5,573.1 1315.7,575 1311.9,569.3 1311,574 1311.9,579.8 1317.6,579.8 1323.3,577.9 1327.1,576.9 1331,578.8 1329,583.6 1325.2,586.4 1327.1,582.6 1323.3,581.7M1324.3,596 1321.4,599.8 1321.4,604.5 1319.5,608.3 1316.7,612.1 1312.9,612.1 1308.1,611.2 1303.3,610.2 1301.4,611.2 1298.6,614 1297.6,611.2 1295.7,612.1 1296.7,615 1292.9,618.8 1290,621.7 1288.1,625.5 1287.1,629.3 1285.2,632.1 1281.4,633.1 1275.7,632.6 1272.9,634 1270,635.5M1303.3,600.7 1307.1,603.6 1311,605.5 1314.8,602.6 1315.7,597.9 1317.6,600.7 1319.5,604.5M1312.9,593.1 1314.8,596.9 1311.9,600.7 1315.7,604.5 1313.8,608.3M881.5,841.7 880.2,837.6 877.5,829.6 874.8,822.8 872.8,816.1 873.5,810.7 868.1,808 866.7,803.3 870.8,805.3 874.8,802.6 876.1,797.3 872.8,793.2 877.5,791.9 880.2,785.2 884.2,782.5 887.6,777.1 891.6,770.4 895.7,769.7 899,772.4 900.4,769.7 904.4,770.4 911.1,766.3 916.5,763 921.2,758.9 923.2,754.9 926.6,752.2 925.9,744.8 928.6,742.8 930,746.1 933.3,740.8 932.6,747.5 936.7,748.2 943.4,744.1 951.5,741.4M951.5,741.4 960,740.9 966.3,742.5 972.6,745.6 978.1,747.6 983.5,748 989,746.4 985.1,743.3 989.8,740.1 993.8,741.3 998.5,742.5 999.2,746.4 1004,749.5 1007.9,753.5 1010.2,756.6 1014.2,759.7 1017.3,757.4 1020.4,754.2 1023.6,755 1026.7,759.7 1029.9,758.2 1030.6,751.9 1032.2,749.5 1035.4,750.3 1036.9,753.5 1040.1,755 1043.2,756.6 1044.8,759 1044.4,762.1 1047.1,762.1 1050.3,761.3 1052.6,759 1053,756.6 1050.3,754.2 1046.3,751.9 1043.2,749.5 1040.1,746.4 1041.6,743.3 1044.8,740.9 1048.7,739.3 1050.3,737 1049.5,733.1 1046.3,732.3 1044,733.8 1041.6,737 1038.5,738.5 1036.1,737.8 1038.5,734.6 1041.6,729.9 1044.8,727.6 1047.9,726 1052.6,724.4M1022.8,731.9 1025.1,728.3 1027.5,725.2 1030.6,726 1033.8,728.3 1035.4,730.7 1033.8,734.6 1030.6,733.8 1024.4,733.8 1022.8,731.9M1035.4,730.7 1038.5,731.9 1041.6,733.1 1044.8,734.6 1047.9,736.2 1045.6,737.8 1042.4,736.2 1039.3,734.6 1036.9,733.8M341.7,235.6 341.7,238.5 344.5,240.4M314,286.1 321.7,288.5 316,290.9 317.9,294.7 320.7,296.1 317.9,298.5 316.9,304.2M1183.7,785.2 1182.5,789.4 1184.9,793.9 1188.5,795.9 1191.4,793.7 1190.5,789.8 1187.6,788.7 1186.6,791.5 1188.8,792.8M1193.4,815.8 1196.8,817 1199,820.1 1196.8,821.5 1194.8,818.7 1196.5,818.7M1217.3,859.3 1220.3,861.4 1223.4,861.9 1222,863.6 1218.6,863.1 1220.3,862.4M1128,336 1126.3,341 1125.6,347 1127.8,343.5 1129,338" fill="none" stroke="#000" stroke-width="3.75" stroke-linejoin="round" stroke-linecap="round"/>
<path d="M341.7,236.6 344.5,240.4 349.3,241.3 350.2,246.1 349.8,250.9 352.1,253.7 353.1,258.5 355.5,261.3 352.1,265.1 352.6,270.9 353.1,277.5 351.2,282.3 346.4,285.1 342.6,287 338.8,288.5 335,285.1 334,281.3 333.1,277.5 335,272.8 337.9,268 339.8,265.1 341.7,263.2 337.9,261.3 335,259.9 336.9,257.5 341.7,256.6 341.7,253.7 342.6,250.9 339.8,250.9 335,249.9 333.1,247 335,244.2 338.8,242.3 341.7,241.3 340.7,237.5ZM346.2,520.8 349.6,519.2 353.6,520.8 356.7,523.2 356.3,525.2 353.3,525.9 353.6,529.6 356.3,533 360.3,538.3 358.7,541 355,539.7 350.9,537.7 348.9,539.7 346.9,537.7 346.6,532.3 346.9,526.9 345.9,522.9Z" fill="#000" stroke="#000" stroke-width="0.6" stroke-linejoin="round"/><path d="M343.6,244.8 346.1,244.2 347.2,246.3 344.9,247.3ZM340.3,273.7 342.8,273.3 343.6,275.6 341.3,276.2ZM347.2,256.6 348.5,256.2 348.9,258.3 347.6,258.7ZM348.3,268 349.7,267.8 349.9,269.9 348.5,270.1ZM344.5,279.4 346,279 346.4,280.6 344.9,281Z" fill="#fff"/>
</svg>
<div id="lt">Earliest date<br>of 1st gen. 25%<br>adult flight</div>
<div class="k" style="left:1561px;top:406.90px;background:#e8b8b0"></div><div class="kl" style="left:1597px;top:408.80px">Aug-03</div><div class="k" style="left:1561px;top:432.35px;background:#d09488"></div><div class="kl" style="left:1597px;top:434.25px">Aug-10</div><div class="k" style="left:1561px;top:457.80px;background:#b86c5c"></div><div class="kl" style="left:1597px;top:459.70px">Aug-17</div><div class="k" style="left:1561px;top:483.25px;background:#a04430"></div><div class="kl" style="left:1597px;top:485.15px">Aug-24</div><div class="k" style="left:1561px;top:508.70px;background:#88200c"></div><div class="kl" style="left:1597px;top:510.60px">Aug-31</div><div class="k" style="left:1561px;top:534.15px;background:#ffb0dc"></div><div class="kl" style="left:1597px;top:536.05px">Sep-07</div><div class="k" style="left:1561px;top:559.60px;background:#ff84e0"></div><div class="kl" style="left:1597px;top:561.50px">Sep-14</div><div class="k" style="left:1561px;top:585.05px;background:#ff58e8"></div><div class="kl" style="left:1597px;top:586.95px">Sep-21</div><div class="k" style="left:1561px;top:610.50px;background:#ff2cf4"></div><div class="kl" style="left:1597px;top:612.40px">Sep-28</div><div class="k" style="left:1561px;top:635.95px;background:#e0c0e8"></div><div class="kl" style="left:1597px;top:637.85px">Oct-05</div><div class="k" style="left:1561px;top:661.40px;background:#cc9cd8"></div><div class="kl" style="left:1597px;top:663.30px">Oct-12</div><div class="k" style="left:1561px;top:686.85px;background:#b874c8"></div><div class="kl" style="left:1597px;top:688.75px">Oct-19</div><div class="k" style="left:1561px;top:712.30px;background:#a44cbc"></div><div class="kl" style="left:1597px;top:714.20px">Oct-26</div><div class="k" style="left:1561px;top:737.75px;background:#b8ecfc"></div><div class="kl" style="left:1597px;top:739.65px">Nov-02</div><div class="k" style="left:1561px;top:763.20px;background:#88d8f4"></div><div class="kl" style="left:1597px;top:765.10px">Nov-09</div>
<div class="k" style="left:1685px;top:406.90px;background:#58bce4"></div><div class="kl" style="left:1721px;top:408.80px">Nov-16</div><div class="k" style="left:1685px;top:432.35px;background:#2ca4dc"></div><div class="kl" style="left:1721px;top:434.25px">Nov-23</div><div class="k" style="left:1685px;top:457.80px;background:#0090d4"></div><div class="kl" style="left:1721px;top:459.70px">Nov-30</div><div class="k" style="left:1685px;top:483.25px;background:#a4c4e8"></div><div class="kl" style="left:1721px;top:485.15px">Dec-07</div><div class="k" style="left:1685px;top:508.70px;background:#7c94ec"></div><div class="kl" style="left:1721px;top:510.60px">Dec-14</div><div class="k" style="left:1685px;top:534.15px;background:#5464f0"></div><div class="kl" style="left:1721px;top:536.05px">Dec-21</div><div class="k" style="left:1685px;top:559.60px;background:#2c30f4"></div><div class="kl" style="left:1721px;top:561.50px">Dec-28</div>
</body></html>
